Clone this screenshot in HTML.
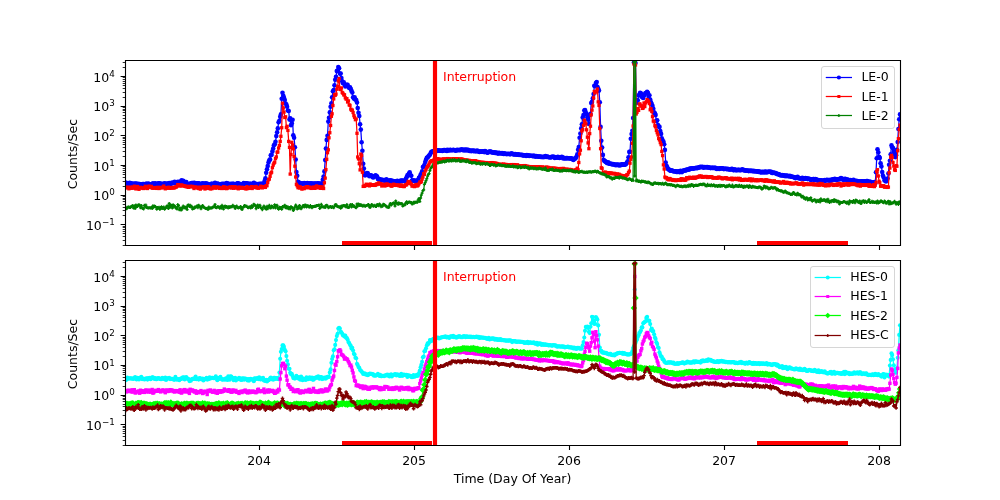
<!DOCTYPE html>
<html lang="en"><head><meta charset="utf-8"><title>Radiation Counts</title>
<style>html,body{margin:0;padding:0;background:#fff;overflow:hidden}svg{display:block}text{font-family:'DejaVu Sans', 'Liberation Sans', sans-serif;font-size:12.50px;fill:#000}</style></head><body>
<svg width="1000" height="500" viewBox="0 0 1000 500">
<rect x="0" y="0" width="1000" height="500" fill="#fff"/>
<defs>
<clipPath id="c1"><rect x="125.000" y="60.000" width="775.000" height="185.096"/></clipPath>
<clipPath id="c2"><rect x="125.000" y="259.904" width="775.000" height="185.096"/></clipPath>
<marker id="mb" markerUnits="userSpaceOnUse" markerWidth="8" markerHeight="8" refX="4" refY="4" viewBox="0 0 8 8" orient="0" overflow="visible"><circle cx="4" cy="4" r="2.30" fill="#0000ff"/></marker>
<marker id="mr" markerUnits="userSpaceOnUse" markerWidth="8" markerHeight="8" refX="4" refY="4" viewBox="0 0 8 8" orient="0" overflow="visible"><rect x="2.35" y="2.35" width="3.30" height="3.30" fill="#ff0000"/></marker>
<marker id="mg" markerUnits="userSpaceOnUse" markerWidth="8" markerHeight="8" refX="4" refY="4" viewBox="0 0 8 8" orient="0" overflow="visible"><path d="M2.50 4 H5.50 M4 2.50 V5.50" stroke="#008000" stroke-width="1.30" fill="none"/></marker>
<marker id="mc" markerUnits="userSpaceOnUse" markerWidth="8" markerHeight="8" refX="4" refY="4" viewBox="0 0 8 8" orient="0" overflow="visible"><circle cx="4" cy="4" r="2.05" fill="#00ffff"/></marker>
<marker id="mm" markerUnits="userSpaceOnUse" markerWidth="8" markerHeight="8" refX="4" refY="4" viewBox="0 0 8 8" orient="0" overflow="visible"><rect x="2.30" y="2.30" width="3.40" height="3.40" fill="#ff00ff"/></marker>
<marker id="ml" markerUnits="userSpaceOnUse" markerWidth="8" markerHeight="8" refX="4" refY="4" viewBox="0 0 8 8" orient="0" overflow="visible"><path d="M4 0.80 L7.20 4 L4 7.20 L0.80 4 Z" fill="#00ff00"/></marker>
<marker id="mn" markerUnits="userSpaceOnUse" markerWidth="8" markerHeight="8" refX="4" refY="4" viewBox="0 0 8 8" orient="0" overflow="visible"><path d="M2.20 4 H5.80 M4 2.20 V5.80" stroke="#800000" stroke-width="1.40" fill="none"/></marker>
<marker id="lmb" markerUnits="userSpaceOnUse" markerWidth="8" markerHeight="8" refX="4" refY="4" viewBox="0 0 8 8" orient="0" overflow="visible"><circle cx="4" cy="4" r="2.10" fill="#0000ff"/></marker>
<marker id="lmr" markerUnits="userSpaceOnUse" markerWidth="8" markerHeight="8" refX="4" refY="4" viewBox="0 0 8 8" orient="0" overflow="visible"><rect x="2.50" y="2.50" width="3.00" height="3.00" fill="#ff0000"/></marker>
<marker id="lmg" markerUnits="userSpaceOnUse" markerWidth="8" markerHeight="8" refX="4" refY="4" viewBox="0 0 8 8" orient="0" overflow="visible"><path d="M2.61 4 H5.39 M4 2.61 V5.39" stroke="#008000" stroke-width="1.25" fill="none"/></marker>
<marker id="lmc" markerUnits="userSpaceOnUse" markerWidth="8" markerHeight="8" refX="4" refY="4" viewBox="0 0 8 8" orient="0" overflow="visible"><circle cx="4" cy="4" r="1.95" fill="#00ffff"/></marker>
<marker id="lmm" markerUnits="userSpaceOnUse" markerWidth="8" markerHeight="8" refX="4" refY="4" viewBox="0 0 8 8" orient="0" overflow="visible"><rect x="2.50" y="2.50" width="3.00" height="3.00" fill="#ff00ff"/></marker>
<marker id="lml" markerUnits="userSpaceOnUse" markerWidth="8" markerHeight="8" refX="4" refY="4" viewBox="0 0 8 8" orient="0" overflow="visible"><path d="M4 1.25 L6.75 4 L4 6.75 L1.25 4 Z" fill="#00ff00"/></marker>
<marker id="lmn" markerUnits="userSpaceOnUse" markerWidth="8" markerHeight="8" refX="4" refY="4" viewBox="0 0 8 8" orient="0" overflow="visible"><path d="M2.61 4 H5.39 M4 2.61 V5.39" stroke="#800000" stroke-width="1.25" fill="none"/></marker>
</defs>
<g clip-path="url(#c1)">
<polyline points="125.0,184.3 125.8,182.5 126.6,183.8 127.3,183.4 128.1,183.5 128.9,183.9 129.7,182.7 130.4,183.5 131.2,183.3 132.0,185.2 132.8,183.9 133.5,183.8 134.3,183.8 135.1,183.7 135.9,183.5 136.6,183.7 137.4,184.2 138.2,183.9 139.0,184.4 139.7,184.0 140.5,184.2 141.3,184.8 142.1,184.5 142.8,184.0 143.6,184.1 144.4,184.4 145.2,184.8 145.9,183.7 146.7,183.7 147.5,184.4 148.3,183.6 149.0,184.0 149.8,184.6 150.6,184.7 151.4,184.4 152.2,184.6 152.9,183.2 153.7,184.8 154.5,183.7 155.3,183.4 156.0,184.2 156.8,184.3 157.6,183.7 158.4,183.2 159.1,183.5 159.9,183.4 160.7,184.2 161.5,184.1 162.2,183.8 163.0,184.3 163.8,183.8 164.6,183.4 165.3,183.8 166.1,184.0 166.9,183.8 167.7,183.6 168.4,184.0 169.2,183.0 170.0,184.3 170.8,183.9 171.5,182.7 172.3,183.2 173.1,182.6 173.9,183.1 174.6,181.7 175.4,182.2 176.2,183.0 177.0,183.1 177.8,181.8 178.5,182.2 179.3,182.2 180.1,181.5 180.9,182.1 181.6,180.4 182.4,181.2 183.2,180.9 184.0,182.2 184.7,181.7 185.5,182.4 186.3,182.0 187.1,183.9 187.8,184.0 188.6,184.0 189.4,184.2 190.2,183.8 190.9,183.3 191.7,183.1 192.5,183.0 193.3,184.0 194.0,182.7 194.8,183.0 195.6,183.4 196.4,183.8 197.1,183.9 197.9,183.3 198.7,183.2 199.5,183.8 200.3,184.3 201.0,184.1 201.8,183.9 202.6,183.4 203.4,183.7 204.1,183.7 204.9,184.0 205.7,183.2 206.5,183.9 207.2,183.9 208.0,184.1 208.8,184.2 209.6,185.4 210.3,184.8 211.1,184.8 211.9,183.5 212.7,184.3 213.4,184.0 214.2,184.4 215.0,182.9 215.8,184.4 216.5,184.4 217.3,183.5 218.1,183.9 218.9,184.2 219.6,184.4 220.4,184.4 221.2,185.0 222.0,183.9 222.7,184.2 223.5,183.8 224.3,184.5 225.1,183.9 225.9,184.2 226.6,183.1 227.4,183.7 228.2,183.5 229.0,184.6 229.7,184.4 230.5,184.0 231.3,183.7 232.1,184.2 232.8,183.8 233.6,183.7 234.4,184.5 235.2,185.6 235.9,184.3 236.7,183.8 237.5,183.3 238.3,183.3 239.0,184.1 239.8,184.5 240.6,184.1 241.4,184.3 242.1,184.2 242.9,184.1 243.7,183.1 244.5,183.6 245.2,183.8 246.0,183.3 246.8,183.6 247.6,183.5 248.3,183.8 249.1,184.4 249.9,183.7 250.7,183.7 251.5,184.0 252.2,184.0 253.0,184.5 253.8,182.8 254.6,184.3 255.3,183.9 256.1,184.1 256.9,184.1 257.7,184.3 258.4,184.3 259.2,183.7 260.0,184.4 260.8,183.7 261.5,183.8 262.3,184.2 263.1,183.8 263.9,183.4 264.6,181.1 265.4,178.2 266.2,172.7 267.0,169.3 267.7,166.1 268.5,162.5 269.3,160.3 270.1,159.4 270.8,155.3 271.6,154.7 272.4,151.4 273.2,148.5 273.9,145.3 274.7,144.2 275.5,141.8 276.3,136.1 277.1,132.3 277.8,128.4 278.6,122.3 279.4,120.8 280.2,116.7 280.9,114.4 281.7,98.8 282.5,92.8 283.3,95.8 284.0,97.9 284.8,100.1 285.6,103.5 286.4,104.6 287.1,106.7 287.9,110.5 288.7,111.0 289.5,119.6 290.2,118.4 291.0,125.2 291.8,123.3 292.6,119.7 293.3,135.3 294.1,137.7 294.9,147.2 295.7,159.5 296.4,172.0 297.2,175.8 298.0,181.7 298.8,182.6 299.5,182.8 300.3,183.7 301.1,183.7 301.9,183.2 302.7,183.8 303.4,183.5 304.2,183.0 305.0,183.4 305.8,183.5 306.5,183.7 307.3,183.1 308.1,183.9 308.9,183.9 309.6,183.3 310.4,183.5 311.2,183.7 312.0,183.4 312.7,184.6 313.5,184.0 314.3,183.5 315.1,183.6 315.8,183.8 316.6,184.8 317.4,183.4 318.2,183.5 318.9,183.7 319.7,183.6 320.5,184.8 321.3,183.5 322.0,183.9 322.8,179.8 323.6,176.6 324.4,171.4 325.2,160.1 325.9,148.6 326.7,139.9 327.5,135.8 328.3,121.6 329.0,117.8 329.8,112.4 330.6,106.7 331.4,103.3 332.1,97.3 332.9,91.2 333.7,90.0 334.5,85.2 335.2,79.7 336.0,76.7 336.8,71.1 337.6,70.5 338.3,67.0 339.1,68.3 339.9,73.6 340.7,73.5 341.4,78.1 342.2,81.2 343.0,83.3 343.8,82.4 344.5,84.3 345.3,86.4 346.1,85.6 346.9,84.8 347.6,84.8 348.4,86.7 349.2,88.0 350.0,87.3 350.8,89.0 351.5,90.9 352.3,92.6 353.1,97.3 353.9,98.6 354.6,97.2 355.4,99.6 356.2,100.0 357.0,102.5 357.7,108.1 358.5,112.7 359.3,116.0 360.1,124.3 360.8,129.6 361.6,142.3 362.4,150.7 363.2,163.7 363.9,168.6 364.7,175.3 365.5,175.2 366.3,173.8 367.0,173.1 367.8,173.3 368.6,175.3 369.4,176.2 370.1,175.5 370.9,175.2 371.7,175.7 372.5,176.9 373.2,177.4 374.0,177.0 374.8,176.0 375.6,175.4 376.4,176.1 377.1,176.6 377.9,178.9 378.7,179.2 379.5,179.1 380.2,180.6 381.0,180.0 381.8,179.5 382.6,180.3 383.3,180.3 384.1,180.1 384.9,180.8 385.7,180.3 386.4,179.3 387.2,181.0 388.0,180.5 388.8,181.3 389.5,180.5 390.3,180.4 391.1,181.6 391.9,180.6 392.6,181.3 393.4,181.9 394.2,181.3 395.0,181.2 395.7,181.3 396.5,181.5 397.3,180.8 398.1,181.4 398.8,181.2 399.6,181.8 400.4,180.7 401.2,180.5 402.0,181.1 402.7,180.6 403.5,180.9 404.3,181.0 405.1,181.1 405.8,179.0 406.6,177.2 407.4,175.4 408.2,175.2 408.9,173.6 409.7,172.4 410.5,175.2 411.3,175.8 412.0,180.6 412.8,180.7 413.6,180.3 414.4,181.1 415.1,180.9 415.9,181.3 416.7,180.6 417.5,180.9 418.2,179.9 419.0,177.8 419.8,177.0 420.6,174.7 421.3,173.7 422.1,171.4 422.9,167.0 423.7,166.6 424.4,165.1 425.2,162.0 426.0,159.7 426.8,157.8 427.6,157.5 428.3,156.6 429.1,155.6 429.9,154.7 430.7,153.0 431.4,151.9 432.2,151.7 433.0,151.2 433.8,151.1 434.5,151.1 435.3,151.2 436.1,150.5 436.9,151.0 437.6,150.3 438.4,150.2 439.2,150.8 440.0,150.6 440.7,150.8 441.5,150.7 442.3,150.9 443.1,150.4 443.8,150.1 444.6,150.0 445.4,150.6 446.2,150.0 446.9,151.0 447.7,149.7 448.5,150.2 449.3,150.4 450.1,149.9 450.8,150.0 451.6,150.3 452.4,150.3 453.2,149.7 453.9,150.0 454.7,150.3 455.5,150.6 456.3,150.4 457.0,149.9 457.8,150.0 458.6,150.3 459.4,149.9 460.1,150.1 460.9,150.0 461.7,149.4 462.5,150.0 463.2,149.7 464.0,150.5 464.8,149.6 465.6,150.3 466.3,149.6 467.1,150.4 467.9,149.7 468.7,150.1 469.4,151.0 470.2,150.5 471.0,151.1 471.8,150.9 472.5,150.6 473.3,151.1 474.1,150.6 474.9,151.3 475.7,151.3 476.4,151.1 477.2,150.6 478.0,151.2 478.8,151.6 479.5,152.0 480.3,151.3 481.1,151.7 481.9,151.8 482.6,151.3 483.4,151.6 484.2,152.1 485.0,151.1 485.7,151.5 486.5,152.0 487.3,152.7 488.1,152.4 488.8,151.7 489.6,151.6 490.4,151.5 491.2,151.9 491.9,152.5 492.7,152.3 493.5,152.8 494.3,152.2 495.0,152.9 495.8,152.9 496.6,152.5 497.4,153.2 498.1,153.6 498.9,152.8 499.7,153.1 500.5,153.5 501.3,153.2 502.0,153.1 502.8,153.6 503.6,153.9 504.4,153.3 505.1,154.0 505.9,153.7 506.7,154.1 507.5,154.0 508.2,153.8 509.0,154.0 509.8,154.2 510.6,154.1 511.3,153.4 512.1,154.0 512.9,153.8 513.7,154.4 514.4,154.5 515.2,154.1 516.0,154.3 516.8,154.8 517.5,154.6 518.3,154.4 519.1,155.0 519.9,154.7 520.6,154.9 521.4,155.0 522.2,154.8 523.0,155.6 523.7,155.3 524.5,155.2 525.3,155.3 526.1,155.9 526.9,155.1 527.6,155.6 528.4,155.2 529.2,155.9 530.0,155.7 530.7,155.8 531.5,155.8 532.3,156.0 533.1,156.2 533.8,155.6 534.6,156.3 535.4,156.6 536.2,156.1 536.9,156.2 537.7,156.5 538.5,156.8 539.3,156.5 540.0,156.6 540.8,156.9 541.6,157.0 542.4,156.8 543.1,157.2 543.9,156.7 544.7,156.9 545.5,156.1 546.2,157.0 547.0,156.5 547.8,156.9 548.6,157.1 549.3,157.2 550.1,157.3 550.9,157.4 551.7,156.9 552.5,156.8 553.2,156.8 554.0,156.9 554.8,158.0 555.6,157.3 556.3,157.3 557.1,157.7 557.9,156.8 558.7,157.5 559.4,157.9 560.2,157.7 561.0,157.3 561.8,156.8 562.5,157.3 563.3,158.4 564.1,158.0 564.9,158.1 565.6,158.4 566.4,158.1 567.2,158.1 568.0,158.3 568.7,158.3 569.5,158.3 570.3,158.4 571.1,158.4 571.8,158.6 572.6,159.2 573.4,159.9 574.2,158.7 574.9,158.7 575.7,158.0 576.5,156.8 577.3,154.4 578.1,149.8 578.8,147.1 579.6,137.8 580.4,133.5 581.2,128.4 581.9,124.2 582.7,117.6 583.5,115.1 584.3,110.6 585.0,110.1 585.8,112.4 586.6,114.4 587.4,117.2 588.1,119.7 588.9,124.0 589.7,115.0 590.5,113.9 591.2,103.0 592.0,101.9 592.8,98.4 593.6,94.0 594.3,85.7 595.1,86.2 595.9,83.1 596.7,82.0 597.4,86.7 598.2,88.6 599.0,90.6 599.8,102.2 600.6,126.9 601.3,140.7 602.1,147.5 602.9,154.9 603.7,159.8 604.4,161.0 605.2,161.4 606.0,161.9 606.8,162.7 607.5,163.2 608.3,162.4 609.1,163.6 609.9,163.8 610.6,163.8 611.4,163.9 612.2,164.5 613.0,164.1 613.7,164.2 614.5,164.5 615.3,165.1 616.1,164.6 616.8,165.1 617.6,164.6 618.4,164.9 619.2,165.4 619.9,164.7 620.7,165.2 621.5,164.4 622.3,164.8 623.0,164.3 623.8,164.8 624.6,164.8 625.4,164.4 626.2,163.8 626.9,162.6 627.7,161.4 628.5,157.3 629.3,151.9 630.0,151.8 630.8,138.7 631.6,134.1 632.4,130.7 633.1,118.0 633.9,62.5 634.7,62.0 635.5,63.0 636.2,103.0 637.0,100.4 637.8,100.3 638.6,95.2 639.3,95.3 640.1,92.7 640.9,93.2 641.7,96.6 642.4,97.2 643.2,98.0 644.0,95.6 644.8,94.4 645.5,93.1 646.3,93.0 647.1,91.7 647.9,92.8 648.6,96.7 649.4,95.3 650.2,99.6 651.0,102.3 651.8,104.3 652.5,106.0 653.3,108.7 654.1,112.4 654.9,113.3 655.6,115.1 656.4,120.9 657.2,120.2 658.0,125.1 658.7,126.6 659.5,126.9 660.3,131.1 661.1,133.9 661.8,138.2 662.6,140.5 663.4,141.5 664.2,144.3 664.9,149.9 665.7,162.5 666.5,165.8 667.3,167.2 668.0,169.0 668.8,169.4 669.6,170.1 670.4,170.7 671.1,170.8 671.9,170.3 672.7,171.0 673.5,171.3 674.2,171.4 675.0,171.2 675.8,171.2 676.6,171.9 677.4,171.9 678.1,171.6 678.9,171.2 679.7,172.2 680.5,170.7 681.2,171.3 682.0,172.1 682.8,170.9 683.6,170.7 684.3,170.2 685.1,170.7 685.9,169.8 686.7,170.1 687.4,169.6 688.2,169.2 689.0,169.7 689.8,168.6 690.5,168.7 691.3,168.6 692.1,168.3 692.9,168.5 693.6,168.6 694.4,168.2 695.2,168.0 696.0,168.1 696.7,167.9 697.5,168.1 698.3,167.6 699.1,167.5 699.8,167.1 700.6,166.9 701.4,167.3 702.2,166.8 703.0,167.1 703.7,167.7 704.5,167.0 705.3,167.3 706.1,167.0 706.8,167.5 707.6,167.1 708.4,167.5 709.2,167.5 709.9,167.7 710.7,168.1 711.5,167.8 712.3,167.9 713.0,167.9 713.8,168.0 714.6,167.9 715.4,167.7 716.1,168.4 716.9,168.9 717.7,168.6 718.5,168.5 719.2,169.0 720.0,168.4 720.8,168.4 721.6,168.3 722.3,168.3 723.1,168.5 723.9,169.1 724.7,168.7 725.5,168.7 726.2,168.9 727.0,169.2 727.8,168.8 728.6,169.3 729.3,169.4 730.1,169.4 730.9,169.4 731.7,168.9 732.4,169.0 733.2,170.1 734.0,170.1 734.8,169.4 735.5,170.1 736.3,170.1 737.1,170.2 737.9,169.9 738.6,169.9 739.4,170.1 740.2,170.1 741.0,170.1 741.7,169.8 742.5,169.4 743.3,170.2 744.1,170.0 744.8,170.4 745.6,170.6 746.4,170.5 747.2,170.5 747.9,170.8 748.7,171.1 749.5,170.5 750.3,171.0 751.1,170.9 751.8,170.8 752.6,171.2 753.4,170.8 754.2,171.5 754.9,171.0 755.7,171.2 756.5,171.3 757.3,171.8 758.0,171.4 758.8,171.9 759.6,171.6 760.4,172.1 761.1,172.4 761.9,171.9 762.7,172.2 763.5,171.9 764.2,172.5 765.0,171.9 765.8,171.5 766.6,172.5 767.3,172.0 768.1,171.7 768.9,171.9 769.7,171.5 770.4,172.0 771.2,171.9 772.0,172.9 772.8,172.9 773.5,172.5 774.3,172.8 775.1,173.3 775.9,173.0 776.7,173.8 777.4,174.3 778.2,174.1 779.0,174.3 779.8,174.9 780.5,175.3 781.3,175.5 782.1,175.1 782.9,175.5 783.6,175.2 784.4,175.9 785.2,175.5 786.0,176.2 786.7,175.5 787.5,175.7 788.3,176.2 789.1,176.3 789.8,175.8 790.6,176.4 791.4,176.7 792.2,176.7 792.9,176.7 793.7,177.3 794.5,177.4 795.3,178.1 796.0,177.9 796.8,177.2 797.6,176.7 798.4,177.8 799.1,178.4 799.9,178.2 800.7,178.6 801.5,178.2 802.3,177.9 803.0,178.7 803.8,178.4 804.6,178.9 805.4,178.1 806.1,178.7 806.9,178.2 807.7,179.1 808.5,178.6 809.2,179.0 810.0,179.0 810.8,179.9 811.6,179.4 812.3,179.3 813.1,179.1 813.9,179.0 814.7,180.2 815.4,179.0 816.2,179.4 817.0,180.1 817.8,180.6 818.5,180.0 819.3,180.3 820.1,180.3 820.9,180.7 821.6,180.3 822.4,181.0 823.2,180.6 824.0,181.2 824.7,180.0 825.5,180.7 826.3,180.0 827.1,179.7 827.9,180.5 828.6,180.1 829.4,180.6 830.2,179.8 831.0,180.8 831.7,180.1 832.5,179.2 833.3,179.5 834.1,179.7 834.8,178.9 835.6,179.4 836.4,179.9 837.2,179.6 837.9,179.2 838.7,179.0 839.5,179.4 840.3,178.7 841.0,178.0 841.8,179.0 842.6,178.9 843.4,179.9 844.1,179.3 844.9,178.9 845.7,179.0 846.5,179.9 847.2,179.5 848.0,179.8 848.8,180.0 849.6,180.2 850.4,180.1 851.1,180.3 851.9,180.8 852.7,181.1 853.5,179.8 854.2,181.7 855.0,180.9 855.8,181.5 856.6,180.8 857.3,181.3 858.1,181.4 858.9,181.4 859.7,181.7 860.4,181.7 861.2,181.3 862.0,181.4 862.8,181.8 863.5,181.6 864.3,181.4 865.1,181.2 865.9,181.5 866.6,181.0 867.4,181.1 868.2,182.3 869.0,181.8 869.7,181.9 870.5,181.7 871.3,183.0 872.1,183.3 872.8,182.4 873.6,182.8 874.4,182.1 875.2,183.5 876.0,172.3 876.7,158.2 877.5,149.2 878.3,152.3 879.1,156.9 879.8,157.9 880.6,163.3 881.4,166.4 882.2,172.1 882.9,175.6 883.7,177.5 884.5,180.5 885.3,180.6 886.0,181.4 886.8,180.0 887.6,178.6 888.4,173.5 889.1,164.7 889.9,160.8 890.7,154.2 891.5,145.4 892.2,147.2 893.0,148.1 893.8,151.4 894.6,153.9 895.3,157.1 896.1,155.2 896.9,149.7 897.7,142.0 898.4,129.0 899.2,119.2 900.0,114.4" fill="none" stroke="#0000ff" stroke-width="1.25" stroke-linejoin="round" marker-start="url(#mb)" marker-mid="url(#mb)" marker-end="url(#mb)"/>
<polyline points="125.0,187.8 125.8,187.2 126.6,187.8 127.3,187.2 128.1,187.6 128.9,188.8 129.7,187.7 130.4,187.1 131.2,188.3 132.0,187.9 132.8,187.1 133.5,188.1 134.3,186.2 135.1,188.1 135.9,188.9 136.6,188.1 137.4,186.5 138.2,188.5 139.0,189.3 139.7,188.0 140.5,187.3 141.3,187.7 142.1,188.0 142.8,188.0 143.6,188.5 144.4,188.2 145.2,186.3 145.9,187.1 146.7,187.3 147.5,188.5 148.3,186.7 149.0,186.1 149.8,187.1 150.6,187.4 151.4,186.4 152.2,188.2 152.9,187.7 153.7,188.0 154.5,187.9 155.3,187.5 156.0,188.3 156.8,188.4 157.6,187.4 158.4,187.5 159.1,188.5 159.9,187.6 160.7,187.5 161.5,187.9 162.2,187.4 163.0,187.4 163.8,186.1 164.6,187.8 165.3,188.8 166.1,188.0 166.9,188.2 167.7,187.7 168.4,187.2 169.2,188.1 170.0,188.2 170.8,187.9 171.5,188.0 172.3,187.4 173.1,187.9 173.9,187.9 174.6,187.7 175.4,186.9 176.2,187.1 177.0,186.4 177.8,184.6 178.5,184.8 179.3,185.7 180.1,185.3 180.9,186.1 181.6,185.0 182.4,185.4 183.2,185.6 184.0,185.9 184.7,186.1 185.5,186.4 186.3,186.8 187.1,186.3 187.8,186.9 188.6,187.3 189.4,186.7 190.2,186.3 190.9,186.6 191.7,186.6 192.5,186.4 193.3,187.0 194.0,188.5 194.8,187.4 195.6,187.0 196.4,187.4 197.1,187.5 197.9,188.2 198.7,188.5 199.5,187.2 200.3,189.1 201.0,187.4 201.8,188.0 202.6,187.5 203.4,186.9 204.1,186.9 204.9,188.9 205.7,188.5 206.5,186.9 207.2,186.8 208.0,188.3 208.8,186.8 209.6,188.2 210.3,188.9 211.1,188.4 211.9,188.7 212.7,188.1 213.4,186.8 214.2,187.5 215.0,186.9 215.8,188.2 216.5,187.0 217.3,187.7 218.1,187.3 218.9,187.3 219.6,188.4 220.4,188.1 221.2,187.9 222.0,188.5 222.7,187.7 223.5,186.7 224.3,188.4 225.1,187.0 225.9,188.4 226.6,188.6 227.4,188.1 228.2,187.5 229.0,187.5 229.7,187.3 230.5,187.0 231.3,188.1 232.1,187.0 232.8,186.7 233.6,188.3 234.4,187.2 235.2,186.7 235.9,187.7 236.7,187.9 237.5,187.7 238.3,188.8 239.0,187.0 239.8,188.0 240.6,187.7 241.4,188.2 242.1,187.3 242.9,187.6 243.7,187.9 244.5,188.3 245.2,188.5 246.0,188.9 246.8,186.7 247.6,188.6 248.3,188.0 249.1,188.0 249.9,187.3 250.7,188.3 251.5,186.6 252.2,188.5 253.0,187.0 253.8,187.4 254.6,187.3 255.3,187.5 256.1,186.5 256.9,187.9 257.7,187.6 258.4,188.2 259.2,187.7 260.0,187.4 260.8,186.2 261.5,187.1 262.3,187.9 263.1,186.7 263.9,186.7 264.6,187.1 265.4,187.4 266.2,185.6 267.0,185.7 267.7,182.5 268.5,179.7 269.3,179.1 270.1,176.3 270.8,173.2 271.6,172.2 272.4,167.7 273.2,165.1 273.9,163.3 274.7,162.2 275.5,158.6 276.3,156.9 277.1,152.2 277.8,152.0 278.6,148.1 279.4,145.4 280.2,141.4 280.9,136.3 281.7,127.7 282.5,103.2 283.3,107.9 284.0,112.1 284.8,117.5 285.6,116.8 286.4,127.6 287.1,126.3 287.9,130.4 288.7,141.4 289.5,147.4 290.2,174.1 291.0,154.5 291.8,142.3 292.6,145.0 293.3,148.8 294.1,156.6 294.9,166.2 295.7,177.0 296.4,184.3 297.2,185.8 298.0,187.7 298.8,186.6 299.5,188.0 300.3,187.0 301.1,187.9 301.9,189.1 302.7,188.0 303.4,188.4 304.2,188.6 305.0,187.5 305.8,187.7 306.5,186.7 307.3,186.7 308.1,187.6 308.9,187.6 309.6,187.1 310.4,187.8 311.2,188.4 312.0,188.1 312.7,187.5 313.5,187.1 314.3,188.3 315.1,188.3 315.8,186.9 316.6,186.0 317.4,187.2 318.2,187.7 318.9,187.6 319.7,186.6 320.5,188.3 321.3,186.9 322.0,188.1 322.8,187.2 323.6,188.5 324.4,182.8 325.2,178.1 325.9,169.6 326.7,159.3 327.5,152.7 328.3,149.8 329.0,137.8 329.8,132.7 330.6,125.5 331.4,116.3 332.1,113.8 332.9,105.5 333.7,98.9 334.5,94.7 335.2,95.3 336.0,94.1 336.8,89.2 337.6,86.4 338.3,80.9 339.1,78.6 339.9,89.0 340.7,89.5 341.4,87.9 342.2,92.5 343.0,93.3 343.8,94.9 344.5,94.8 345.3,97.8 346.1,99.1 346.9,98.6 347.6,102.0 348.4,100.9 349.2,104.9 350.0,105.4 350.8,109.1 351.5,110.2 352.3,110.1 353.1,112.5 353.9,115.6 354.6,117.3 355.4,119.7 356.2,119.0 357.0,133.3 357.7,157.0 358.5,158.9 359.3,163.7 360.1,169.9 360.8,154.1 361.6,155.4 362.4,172.2 363.2,186.4 363.9,186.3 364.7,186.2 365.5,185.4 366.3,184.2 367.0,185.2 367.8,184.7 368.6,185.3 369.4,185.9 370.1,184.0 370.9,184.9 371.7,185.2 372.5,185.2 373.2,185.0 374.0,184.7 374.8,185.4 375.6,185.1 376.4,183.9 377.1,184.5 377.9,183.5 378.7,182.9 379.5,183.9 380.2,184.0 381.0,183.8 381.8,186.0 382.6,184.3 383.3,185.2 384.1,185.3 384.9,186.0 385.7,184.2 386.4,185.4 387.2,184.0 388.0,184.8 388.8,184.8 389.5,184.6 390.3,185.2 391.1,186.0 391.9,186.1 392.6,185.2 393.4,184.3 394.2,184.5 395.0,185.3 395.7,185.2 396.5,185.4 397.3,185.2 398.1,184.9 398.8,185.7 399.6,185.5 400.4,186.2 401.2,184.9 402.0,185.9 402.7,186.1 403.5,186.5 404.3,186.5 405.1,185.1 405.8,184.7 406.6,184.8 407.4,183.5 408.2,181.4 408.9,182.4 409.7,181.9 410.5,183.4 411.3,184.2 412.0,186.1 412.8,185.7 413.6,185.7 414.4,186.6 415.1,184.9 415.9,185.9 416.7,184.5 417.5,185.9 418.2,185.1 419.0,183.8 419.8,182.1 420.6,182.3 421.3,181.6 422.1,179.1 422.9,177.0 423.7,173.6 424.4,174.4 425.2,171.0 426.0,169.6 426.8,167.7 427.6,166.7 428.3,165.4 429.1,164.1 429.9,162.2 430.7,161.5 431.4,160.9 432.2,160.7 433.0,160.7 433.8,160.1 434.5,159.3 435.3,159.6 436.1,159.4 436.9,159.2 437.6,158.8 438.4,159.1 439.2,159.3 440.0,159.5 440.7,159.7 441.5,159.3 442.3,159.6 443.1,159.1 443.8,158.9 444.6,159.6 445.4,159.4 446.2,158.8 446.9,159.6 447.7,158.6 448.5,159.1 449.3,159.2 450.1,158.9 450.8,159.5 451.6,159.4 452.4,159.3 453.2,158.7 453.9,158.8 454.7,158.8 455.5,159.1 456.3,159.1 457.0,159.0 457.8,158.8 458.6,159.1 459.4,159.5 460.1,159.7 460.9,158.9 461.7,159.2 462.5,159.3 463.2,159.6 464.0,160.2 464.8,160.0 465.6,160.1 466.3,160.4 467.1,160.2 467.9,160.4 468.7,160.7 469.4,160.4 470.2,160.8 471.0,161.0 471.8,160.8 472.5,161.3 473.3,161.2 474.1,160.7 474.9,161.4 475.7,160.7 476.4,161.6 477.2,161.5 478.0,161.6 478.8,162.1 479.5,162.1 480.3,162.3 481.1,162.8 481.9,162.2 482.6,162.7 483.4,162.4 484.2,162.6 485.0,162.6 485.7,162.9 486.5,162.6 487.3,163.0 488.1,163.6 488.8,163.0 489.6,163.3 490.4,162.7 491.2,163.3 491.9,162.6 492.7,162.9 493.5,163.2 494.3,163.4 495.0,163.1 495.8,163.4 496.6,163.4 497.4,163.9 498.1,164.0 498.9,164.3 499.7,164.5 500.5,164.7 501.3,164.2 502.0,164.5 502.8,164.5 503.6,164.1 504.4,164.5 505.1,164.9 505.9,164.4 506.7,164.8 507.5,165.3 508.2,165.0 509.0,165.0 509.8,164.9 510.6,165.3 511.3,164.6 512.1,164.9 512.9,164.9 513.7,164.6 514.4,164.7 515.2,165.5 516.0,165.2 516.8,165.9 517.5,164.8 518.3,165.6 519.1,165.8 519.9,166.0 520.6,166.1 521.4,166.0 522.2,166.1 523.0,165.7 523.7,165.9 524.5,165.6 525.3,165.9 526.1,166.2 526.9,166.5 527.6,166.3 528.4,166.6 529.2,166.8 530.0,166.6 530.7,167.0 531.5,167.2 532.3,167.1 533.1,166.8 533.8,166.8 534.6,166.9 535.4,166.8 536.2,167.5 536.9,167.4 537.7,166.8 538.5,166.9 539.3,167.3 540.0,166.8 540.8,167.7 541.6,167.3 542.4,166.9 543.1,167.5 543.9,167.7 544.7,167.4 545.5,167.6 546.2,167.2 547.0,167.3 547.8,167.5 548.6,167.5 549.3,168.3 550.1,168.6 550.9,168.0 551.7,168.2 552.5,168.5 553.2,168.1 554.0,168.5 554.8,168.2 555.6,168.6 556.3,168.4 557.1,168.9 557.9,168.7 558.7,168.7 559.4,168.6 560.2,168.6 561.0,168.9 561.8,168.6 562.5,168.9 563.3,168.4 564.1,169.0 564.9,169.4 565.6,169.9 566.4,169.2 567.2,169.3 568.0,170.3 568.7,170.4 569.5,169.4 570.3,169.8 571.1,169.6 571.8,170.0 572.6,170.6 573.4,170.8 574.2,170.2 574.9,170.9 575.7,169.9 576.5,169.5 577.3,168.2 578.1,169.8 578.8,162.5 579.6,153.9 580.4,150.2 581.2,140.8 581.9,131.0 582.7,129.7 583.5,125.3 584.3,120.2 585.0,122.0 585.8,123.8 586.6,129.8 587.4,137.2 588.1,142.9 588.9,148.7 589.7,133.6 590.5,126.2 591.2,114.9 592.0,110.1 592.8,106.0 593.6,97.8 594.3,91.5 595.1,92.8 595.9,91.2 596.7,91.6 597.4,89.0 598.2,101.9 599.0,105.4 599.8,128.5 600.6,148.7 601.3,167.8 602.1,168.4 602.9,173.0 603.7,172.3 604.4,172.9 605.2,172.1 606.0,172.5 606.8,173.1 607.5,172.7 608.3,172.7 609.1,172.9 609.9,173.7 610.6,173.0 611.4,173.1 612.2,173.6 613.0,173.5 613.7,173.6 614.5,173.4 615.3,174.0 616.1,174.4 616.8,174.5 617.6,173.9 618.4,175.0 619.2,174.3 619.9,175.7 620.7,175.1 621.5,175.6 622.3,175.8 623.0,175.6 623.8,176.2 624.6,175.8 625.4,176.5 626.2,176.0 626.9,174.6 627.7,174.6 628.5,172.6 629.3,171.1 630.0,163.2 630.8,159.3 631.6,157.0 632.4,143.3 633.1,126.0 633.9,64.0 634.7,63.5 635.5,65.0 636.2,114.0 637.0,112.3 637.8,108.6 638.6,110.4 639.3,104.0 640.1,104.1 640.9,106.1 641.7,105.8 642.4,108.4 643.2,108.0 644.0,103.0 644.8,106.6 645.5,103.1 646.3,101.8 647.1,99.6 647.9,101.2 648.6,101.2 649.4,103.6 650.2,109.8 651.0,108.7 651.8,111.5 652.5,116.7 653.3,121.0 654.1,121.8 654.9,125.7 655.6,126.9 656.4,130.4 657.2,132.7 658.0,134.9 658.7,138.5 659.5,139.9 660.3,142.6 661.1,144.6 661.8,151.4 662.6,155.6 663.4,164.9 664.2,169.0 664.9,177.1 665.7,177.8 666.5,177.6 667.3,179.1 668.0,179.1 668.8,179.9 669.6,178.5 670.4,179.0 671.1,179.7 671.9,179.5 672.7,180.2 673.5,180.4 674.2,179.8 675.0,180.3 675.8,180.6 676.6,180.4 677.4,180.1 678.1,179.9 678.9,179.7 679.7,180.1 680.5,180.4 681.2,178.7 682.0,179.1 682.8,179.5 683.6,180.2 684.3,179.0 685.1,180.3 685.9,179.8 686.7,177.7 687.4,178.6 688.2,178.7 689.0,177.9 689.8,177.2 690.5,178.0 691.3,177.8 692.1,178.2 692.9,177.9 693.6,177.1 694.4,178.2 695.2,178.1 696.0,177.8 696.7,177.1 697.5,177.3 698.3,176.8 699.1,176.4 699.8,175.9 700.6,176.9 701.4,176.1 702.2,177.3 703.0,176.6 703.7,177.1 704.5,176.9 705.3,176.6 706.1,176.5 706.8,176.7 707.6,177.5 708.4,177.1 709.2,176.8 709.9,177.4 710.7,176.9 711.5,176.8 712.3,177.2 713.0,178.2 713.8,177.6 714.6,177.7 715.4,177.8 716.1,177.6 716.9,178.3 717.7,178.1 718.5,177.2 719.2,177.3 720.0,177.8 720.8,177.6 721.6,178.0 722.3,178.8 723.1,178.5 723.9,178.4 724.7,178.0 725.5,177.9 726.2,177.7 727.0,179.0 727.8,178.4 728.6,178.6 729.3,178.7 730.1,179.1 730.9,178.9 731.7,178.1 732.4,179.8 733.2,178.7 734.0,179.2 734.8,178.4 735.5,179.1 736.3,178.5 737.1,179.5 737.9,179.2 738.6,178.3 739.4,180.0 740.2,178.6 741.0,179.6 741.7,180.4 742.5,179.7 743.3,180.3 744.1,179.6 744.8,179.3 745.6,180.0 746.4,179.6 747.2,179.5 747.9,180.3 748.7,179.6 749.5,179.0 750.3,179.2 751.1,180.7 751.8,180.5 752.6,179.1 753.4,180.2 754.2,180.5 754.9,180.0 755.7,180.7 756.5,179.7 757.3,180.2 758.0,180.8 758.8,180.2 759.6,180.2 760.4,180.4 761.1,179.8 761.9,179.9 762.7,180.6 763.5,180.6 764.2,180.2 765.0,181.3 765.8,179.8 766.6,179.9 767.3,180.4 768.1,181.3 768.9,180.4 769.7,181.4 770.4,181.0 771.2,181.0 772.0,181.4 772.8,181.7 773.5,181.8 774.3,180.8 775.1,182.1 775.9,182.4 776.7,181.8 777.4,182.0 778.2,182.2 779.0,181.9 779.8,182.5 780.5,183.1 781.3,182.4 782.1,182.4 782.9,182.7 783.6,181.5 784.4,183.1 785.2,182.6 786.0,183.3 786.7,182.3 787.5,182.5 788.3,183.0 789.1,183.4 789.8,182.7 790.6,183.9 791.4,183.6 792.2,183.2 792.9,183.8 793.7,183.6 794.5,183.6 795.3,183.2 796.0,182.9 796.8,183.0 797.6,183.9 798.4,184.0 799.1,184.4 799.9,183.8 800.7,184.0 801.5,183.9 802.3,182.9 803.0,183.8 803.8,185.1 804.6,183.8 805.4,184.3 806.1,184.3 806.9,183.9 807.7,184.6 808.5,184.3 809.2,184.3 810.0,184.0 810.8,184.6 811.6,184.3 812.3,184.0 813.1,183.8 813.9,184.9 814.7,184.3 815.4,184.3 816.2,184.9 817.0,184.4 817.8,185.0 818.5,184.2 819.3,185.2 820.1,183.5 820.9,184.8 821.6,184.3 822.4,183.9 823.2,185.2 824.0,185.1 824.7,185.2 825.5,185.9 826.3,185.0 827.1,184.9 827.9,184.5 828.6,185.7 829.4,185.2 830.2,184.5 831.0,184.6 831.7,184.4 832.5,184.2 833.3,185.4 834.1,184.8 834.8,185.1 835.6,184.4 836.4,184.3 837.2,185.3 837.9,183.9 838.7,184.3 839.5,183.6 840.3,184.4 841.0,186.0 841.8,183.9 842.6,185.0 843.4,185.3 844.1,183.9 844.9,184.0 845.7,184.7 846.5,184.8 847.2,183.6 848.0,184.2 848.8,185.2 849.6,183.7 850.4,184.3 851.1,184.6 851.9,183.7 852.7,184.0 853.5,184.2 854.2,184.1 855.0,184.6 855.8,184.3 856.6,184.9 857.3,185.0 858.1,185.7 858.9,184.8 859.7,184.4 860.4,186.1 861.2,184.9 862.0,184.9 862.8,184.7 863.5,185.3 864.3,184.9 865.1,185.4 865.9,185.2 866.6,184.8 867.4,185.3 868.2,184.6 869.0,186.3 869.7,184.6 870.5,186.2 871.3,185.7 872.1,186.1 872.8,186.4 873.6,184.6 874.4,186.6 875.2,185.3 876.0,182.6 876.7,171.5 877.5,169.7 878.3,176.0 879.1,181.3 879.8,182.7 880.6,186.2 881.4,186.0 882.2,185.7 882.9,186.1 883.7,185.7 884.5,187.2 885.3,186.6 886.0,186.9 886.8,186.7 887.6,187.4 888.4,187.1 889.1,172.7 889.9,168.0 890.7,157.2 891.5,155.4 892.2,157.4 893.0,162.5 893.8,166.1 894.6,169.8 895.3,170.4 896.1,165.7 896.9,166.2 897.7,150.7 898.4,138.7 899.2,129.4 900.0,125.1" fill="none" stroke="#ff0000" stroke-width="1.25" stroke-linejoin="round" marker-start="url(#mr)" marker-mid="url(#mr)" marker-end="url(#mr)"/>
<polyline points="125.0,208.1 125.8,207.3 126.6,208.7 127.3,207.9 128.1,207.0 128.9,207.0 129.7,207.4 130.4,207.5 131.2,206.5 132.0,206.0 132.8,205.6 133.5,208.0 134.3,206.1 135.1,208.5 135.9,205.0 136.6,206.4 137.4,206.6 138.2,205.1 139.0,204.7 139.7,205.3 140.5,207.8 141.3,205.5 142.1,207.7 142.8,208.6 143.6,208.9 144.4,205.3 145.2,206.9 145.9,205.1 146.7,207.5 147.5,207.7 148.3,207.9 149.0,207.7 149.8,207.8 150.6,207.9 151.4,207.4 152.2,208.5 152.9,205.8 153.7,207.3 154.5,206.0 155.3,206.6 156.0,207.3 156.8,209.3 157.6,207.5 158.4,208.1 159.1,207.3 159.9,209.4 160.7,208.5 161.5,206.7 162.2,208.6 163.0,208.0 163.8,207.1 164.6,209.3 165.3,208.0 166.1,207.6 166.9,206.0 167.7,206.0 168.4,208.6 169.2,203.5 170.0,207.4 170.8,205.0 171.5,205.7 172.3,208.1 173.1,204.7 173.9,206.9 174.6,206.1 175.4,206.7 176.2,208.3 177.0,209.1 177.8,204.6 178.5,205.5 179.3,209.8 180.1,207.9 180.9,209.9 181.6,209.8 182.4,207.5 183.2,206.1 184.0,208.1 184.7,207.0 185.5,208.0 186.3,207.0 187.1,209.6 187.8,205.2 188.6,204.9 189.4,206.6 190.2,205.3 190.9,207.1 191.7,206.3 192.5,209.1 193.3,208.2 194.0,208.5 194.8,207.0 195.6,207.2 196.4,206.8 197.1,205.8 197.9,207.7 198.7,205.2 199.5,206.8 200.3,206.8 201.0,208.8 201.8,207.1 202.6,205.5 203.4,207.1 204.1,207.3 204.9,208.1 205.7,208.4 206.5,208.4 207.2,208.2 208.0,209.6 208.8,207.1 209.6,208.3 210.3,207.9 211.1,208.1 211.9,207.9 212.7,207.2 213.4,206.8 214.2,206.8 215.0,204.4 215.8,207.6 216.5,207.8 217.3,206.8 218.1,206.7 218.9,206.9 219.6,208.2 220.4,206.7 221.2,208.3 222.0,205.3 222.7,206.7 223.5,209.1 224.3,206.6 225.1,206.0 225.9,207.5 226.6,206.4 227.4,207.3 228.2,207.9 229.0,206.4 229.7,207.6 230.5,206.8 231.3,206.8 232.1,206.7 232.8,205.3 233.6,206.2 234.4,206.7 235.2,208.6 235.9,206.4 236.7,206.1 237.5,207.4 238.3,207.9 239.0,207.4 239.8,207.6 240.6,206.5 241.4,208.8 242.1,209.6 242.9,207.4 243.7,207.1 244.5,205.5 245.2,205.9 246.0,206.2 246.8,206.3 247.6,207.4 248.3,207.7 249.1,206.9 249.9,207.0 250.7,208.0 251.5,205.8 252.2,207.4 253.0,206.0 253.8,204.2 254.6,204.9 255.3,205.7 256.1,208.7 256.9,206.0 257.7,205.1 258.4,207.5 259.2,205.5 260.0,205.3 260.8,207.6 261.5,208.4 262.3,209.7 263.1,207.4 263.9,206.1 264.6,207.0 265.4,208.6 266.2,209.2 267.0,206.3 267.7,208.8 268.5,206.5 269.3,205.3 270.1,207.8 270.8,208.0 271.6,206.1 272.4,206.5 273.2,207.7 273.9,207.2 274.7,204.7 275.5,207.9 276.3,205.6 277.1,205.3 277.8,208.1 278.6,209.3 279.4,207.2 280.2,207.5 280.9,208.4 281.7,209.3 282.5,206.6 283.3,207.0 284.0,206.4 284.8,205.2 285.6,207.8 286.4,206.4 287.1,208.3 287.9,206.8 288.7,208.7 289.5,207.4 290.2,209.1 291.0,206.6 291.8,207.4 292.6,207.9 293.3,210.6 294.1,209.0 294.9,207.1 295.7,205.1 296.4,206.3 297.2,209.1 298.0,207.0 298.8,208.2 299.5,205.5 300.3,208.0 301.1,208.8 301.9,207.4 302.7,206.1 303.4,205.5 304.2,207.0 305.0,204.9 305.8,205.2 306.5,207.0 307.3,205.7 308.1,205.8 308.9,206.9 309.6,207.0 310.4,205.6 311.2,206.8 312.0,207.8 312.7,206.5 313.5,206.5 314.3,206.5 315.1,205.9 315.8,206.5 316.6,205.5 317.4,205.6 318.2,205.4 318.9,204.9 319.7,208.4 320.5,207.7 321.3,204.3 322.0,206.8 322.8,206.7 323.6,206.9 324.4,207.1 325.2,207.6 325.9,205.5 326.7,205.2 327.5,206.1 328.3,207.7 329.0,207.2 329.8,206.7 330.6,206.6 331.4,207.5 332.1,206.6 332.9,207.1 333.7,207.8 334.5,206.3 335.2,204.8 336.0,204.5 336.8,206.1 337.6,206.5 338.3,206.8 339.1,207.1 339.9,206.7 340.7,208.3 341.4,205.9 342.2,206.9 343.0,205.6 343.8,205.5 344.5,205.8 345.3,205.9 346.1,207.0 346.9,204.6 347.6,207.2 348.4,207.5 349.2,207.2 350.0,205.3 350.8,204.5 351.5,206.9 352.3,204.6 353.1,206.6 353.9,205.7 354.6,206.6 355.4,207.4 356.2,207.7 357.0,204.0 357.7,206.2 358.5,203.9 359.3,205.5 360.1,204.4 360.8,205.5 361.6,205.1 362.4,206.1 363.2,205.9 363.9,205.3 364.7,206.1 365.5,206.2 366.3,205.4 367.0,205.6 367.8,204.8 368.6,204.6 369.4,206.8 370.1,207.6 370.9,206.0 371.7,204.5 372.5,205.2 373.2,206.2 374.0,206.1 374.8,205.3 375.6,206.4 376.4,206.4 377.1,204.6 377.9,204.5 378.7,205.7 379.5,204.1 380.2,205.0 381.0,206.7 381.8,206.1 382.6,206.2 383.3,204.2 384.1,204.6 384.9,205.3 385.7,205.7 386.4,206.7 387.2,206.9 388.0,207.3 388.8,207.5 389.5,205.2 390.3,203.5 391.1,205.2 391.9,204.1 392.6,203.6 393.4,202.9 394.2,203.1 395.0,206.0 395.7,200.9 396.5,203.3 397.3,203.3 398.1,204.4 398.8,202.7 399.6,203.7 400.4,203.7 401.2,203.6 402.0,203.6 402.7,206.0 403.5,205.4 404.3,204.8 405.1,204.8 405.8,203.0 406.6,201.8 407.4,203.4 408.2,202.2 408.9,202.3 409.7,202.1 410.5,202.4 411.3,202.5 412.0,203.9 412.8,203.8 413.6,202.2 414.4,203.0 415.1,201.9 415.9,202.4 416.7,202.0 417.5,202.2 418.2,199.9 419.0,198.4 419.8,201.6 420.6,198.0 421.3,195.2 422.1,193.1 422.9,190.7 423.7,189.8 424.4,184.4 425.2,182.6 426.0,180.7 426.8,178.7 427.6,176.2 428.3,174.3 429.1,173.7 429.9,170.5 430.7,168.2 431.4,167.5 432.2,166.4 433.0,165.0 433.8,163.7 434.5,163.7 435.3,162.8 436.1,163.4 436.9,162.5 437.6,163.0 438.4,162.8 439.2,162.3 440.0,162.2 440.7,162.3 441.5,162.1 442.3,162.1 443.1,161.3 443.8,161.3 444.6,161.9 445.4,160.9 446.2,161.6 446.9,160.5 447.7,160.2 448.5,161.1 449.3,161.1 450.1,160.0 450.8,160.8 451.6,161.0 452.4,159.8 453.2,160.7 453.9,160.3 454.7,159.8 455.5,161.0 456.3,160.5 457.0,161.1 457.8,160.5 458.6,159.8 459.4,160.2 460.1,161.6 460.9,161.1 461.7,161.3 462.5,160.7 463.2,160.7 464.0,161.0 464.8,160.9 465.6,161.4 466.3,161.8 467.1,160.2 467.9,160.7 468.7,162.1 469.4,162.4 470.2,162.1 471.0,162.4 471.8,163.3 472.5,162.7 473.3,162.8 474.1,162.5 474.9,162.7 475.7,162.7 476.4,163.8 477.2,163.2 478.0,163.5 478.8,162.7 479.5,163.3 480.3,164.2 481.1,163.9 481.9,163.6 482.6,164.2 483.4,163.5 484.2,163.4 485.0,164.1 485.7,164.4 486.5,163.6 487.3,163.8 488.1,164.0 488.8,164.5 489.6,165.4 490.4,165.5 491.2,164.2 491.9,164.6 492.7,164.6 493.5,165.2 494.3,164.6 495.0,165.0 495.8,165.9 496.6,165.4 497.4,165.2 498.1,164.9 498.9,164.6 499.7,165.2 500.5,164.9 501.3,165.2 502.0,165.7 502.8,165.5 503.6,165.5 504.4,166.1 505.1,165.4 505.9,166.5 506.7,166.2 507.5,165.8 508.2,166.5 509.0,165.4 509.8,166.4 510.6,166.4 511.3,166.5 512.1,166.6 512.9,165.8 513.7,167.0 514.4,166.5 515.2,166.8 516.0,167.1 516.8,166.4 517.5,167.7 518.3,167.6 519.1,166.3 519.9,166.7 520.6,167.7 521.4,167.4 522.2,167.0 523.0,167.3 523.7,167.1 524.5,167.4 525.3,166.5 526.1,167.6 526.9,167.6 527.6,168.0 528.4,167.3 529.2,169.0 530.0,168.2 530.7,167.7 531.5,168.3 532.3,168.0 533.1,168.0 533.8,168.8 534.6,168.2 535.4,168.2 536.2,168.9 536.9,168.7 537.7,168.7 538.5,168.7 539.3,168.1 540.0,168.5 540.8,168.8 541.6,169.0 542.4,169.3 543.1,169.2 543.9,168.8 544.7,169.5 545.5,168.1 546.2,170.1 547.0,170.2 547.8,170.6 548.6,170.3 549.3,170.2 550.1,169.5 550.9,169.4 551.7,169.8 552.5,168.9 553.2,170.3 554.0,170.6 554.8,170.6 555.6,169.9 556.3,170.1 557.1,170.5 557.9,170.5 558.7,170.3 559.4,170.9 560.2,170.9 561.0,171.0 561.8,170.8 562.5,171.0 563.3,170.0 564.1,170.6 564.9,170.2 565.6,170.6 566.4,170.7 567.2,170.2 568.0,170.6 568.7,170.7 569.5,170.2 570.3,170.8 571.1,170.2 571.8,171.0 572.6,170.7 573.4,171.8 574.2,171.0 574.9,171.9 575.7,172.0 576.5,171.6 577.3,171.6 578.1,171.9 578.8,172.5 579.6,172.0 580.4,171.5 581.2,171.7 581.9,171.3 582.7,172.1 583.5,172.2 584.3,171.9 585.0,172.6 585.8,172.3 586.6,171.9 587.4,172.6 588.1,171.7 588.9,172.1 589.7,171.7 590.5,171.8 591.2,172.2 592.0,172.1 592.8,171.4 593.6,171.7 594.3,171.6 595.1,171.0 595.9,171.6 596.7,172.3 597.4,171.2 598.2,171.6 599.0,172.6 599.8,172.9 600.6,173.1 601.3,173.7 602.1,173.8 602.9,174.2 603.7,174.1 604.4,174.6 605.2,175.2 606.0,175.1 606.8,177.1 607.5,176.4 608.3,176.4 609.1,176.4 609.9,177.8 610.6,177.7 611.4,177.7 612.2,179.2 613.0,178.0 613.7,178.2 614.5,178.5 615.3,177.2 616.1,177.4 616.8,177.4 617.6,177.5 618.4,177.3 619.2,178.2 619.9,176.8 620.7,177.3 621.5,177.3 622.3,178.1 623.0,178.0 623.8,177.9 624.6,178.2 625.4,178.5 626.2,178.9 626.9,179.2 627.7,179.7 628.5,179.3 629.3,178.7 630.0,179.0 630.8,179.4 631.6,180.4 632.4,179.8 633.1,180.5 633.9,62.0 634.7,176.0 635.5,61.5 636.2,181.0 637.0,179.9 637.8,181.0 638.6,181.6 639.3,180.9 640.1,181.5 640.9,182.3 641.7,181.1 642.4,181.6 643.2,181.3 644.0,181.5 644.8,182.1 645.5,181.8 646.3,182.5 647.1,182.1 647.9,182.7 648.6,182.0 649.4,182.6 650.2,183.2 651.0,183.9 651.8,183.7 652.5,184.5 653.3,184.2 654.1,182.9 654.9,182.9 655.6,183.1 656.4,183.6 657.2,183.6 658.0,183.2 658.7,184.1 659.5,183.5 660.3,183.4 661.1,184.0 661.8,184.1 662.6,183.3 663.4,184.2 664.2,184.2 664.9,183.5 665.7,183.1 666.5,184.0 667.3,184.8 668.0,184.5 668.8,184.7 669.6,184.4 670.4,185.0 671.1,184.4 671.9,184.9 672.7,185.4 673.5,185.3 674.2,185.5 675.0,186.1 675.8,186.7 676.6,185.8 677.4,185.3 678.1,185.6 678.9,185.9 679.7,186.3 680.5,186.6 681.2,185.9 682.0,186.7 682.8,186.8 683.6,186.3 684.3,186.3 685.1,185.8 685.9,186.8 686.7,186.2 687.4,185.7 688.2,186.4 689.0,185.1 689.8,186.0 690.5,186.1 691.3,184.5 692.1,185.0 692.9,185.1 693.6,186.4 694.4,185.5 695.2,185.6 696.0,185.1 696.7,185.5 697.5,185.6 698.3,185.0 699.1,185.1 699.8,184.6 700.6,184.2 701.4,184.6 702.2,184.7 703.0,184.0 703.7,184.2 704.5,184.2 705.3,185.7 706.1,185.4 706.8,186.1 707.6,184.3 708.4,185.4 709.2,185.6 709.9,184.9 710.7,185.7 711.5,184.8 712.3,185.7 713.0,185.4 713.8,184.7 714.6,186.0 715.4,185.9 716.1,186.1 716.9,185.4 717.7,186.5 718.5,185.6 719.2,186.3 720.0,185.2 720.8,186.4 721.6,185.4 722.3,186.0 723.1,185.6 723.9,185.4 724.7,185.9 725.5,186.8 726.2,186.8 727.0,185.6 727.8,186.5 728.6,185.8 729.3,185.1 730.1,185.9 730.9,186.4 731.7,186.6 732.4,185.1 733.2,187.0 734.0,186.8 734.8,186.5 735.5,185.5 736.3,185.4 737.1,186.6 737.9,185.8 738.6,186.4 739.4,185.2 740.2,186.6 741.0,186.5 741.7,185.6 742.5,186.5 743.3,187.5 744.1,186.0 744.8,187.1 745.6,186.7 746.4,186.0 747.2,186.3 747.9,186.0 748.7,187.5 749.5,185.8 750.3,186.2 751.1,187.0 751.8,187.5 752.6,186.3 753.4,186.7 754.2,187.1 754.9,187.1 755.7,187.3 756.5,187.4 757.3,187.4 758.0,187.8 758.8,186.9 759.6,187.0 760.4,187.2 761.1,187.7 761.9,189.3 762.7,188.4 763.5,187.8 764.2,185.9 765.0,186.5 765.8,187.9 766.6,187.0 767.3,187.2 768.1,188.3 768.9,189.0 769.7,188.5 770.4,188.2 771.2,187.2 772.0,187.8 772.8,188.3 773.5,188.0 774.3,187.8 775.1,187.4 775.9,188.6 776.7,189.9 777.4,189.0 778.2,189.7 779.0,190.5 779.8,190.6 780.5,191.1 781.3,190.8 782.1,191.0 782.9,192.0 783.6,192.2 784.4,191.9 785.2,190.9 786.0,192.1 786.7,192.8 787.5,192.8 788.3,193.3 789.1,193.3 789.8,193.8 790.6,194.4 791.4,194.3 792.2,194.4 792.9,193.1 793.7,192.4 794.5,194.1 795.3,194.4 796.0,194.3 796.8,195.1 797.6,193.2 798.4,194.2 799.1,195.1 799.9,194.5 800.7,195.3 801.5,196.9 802.3,196.5 803.0,196.3 803.8,198.2 804.6,197.7 805.4,199.2 806.1,198.0 806.9,197.7 807.7,199.9 808.5,199.6 809.2,198.5 810.0,199.8 810.8,197.7 811.6,200.0 812.3,201.2 813.1,200.6 813.9,200.0 814.7,199.8 815.4,200.3 816.2,202.0 817.0,200.3 817.8,200.8 818.5,201.5 819.3,200.0 820.1,201.9 820.9,198.8 821.6,200.6 822.4,200.4 823.2,200.4 824.0,199.4 824.7,200.3 825.5,201.2 826.3,199.9 827.1,201.7 827.9,199.2 828.6,201.2 829.4,202.4 830.2,200.9 831.0,201.9 831.7,200.7 832.5,200.5 833.3,201.6 834.1,199.6 834.8,201.4 835.6,200.2 836.4,201.1 837.2,202.1 837.9,200.9 838.7,201.5 839.5,204.0 840.3,202.2 841.0,202.4 841.8,202.6 842.6,202.4 843.4,201.8 844.1,201.4 844.9,202.1 845.7,202.4 846.5,203.2 847.2,201.9 848.0,202.8 848.8,204.0 849.6,200.8 850.4,202.1 851.1,201.8 851.9,201.5 852.7,202.5 853.5,200.6 854.2,201.4 855.0,202.8 855.8,199.9 856.6,200.7 857.3,201.1 858.1,202.0 858.9,202.6 859.7,200.9 860.4,203.2 861.2,203.5 862.0,201.3 862.8,201.3 863.5,200.8 864.3,202.4 865.1,201.0 865.9,202.1 866.6,202.4 867.4,201.9 868.2,201.2 869.0,199.6 869.7,202.2 870.5,202.4 871.3,202.1 872.1,201.3 872.8,202.6 873.6,201.7 874.4,202.5 875.2,202.0 876.0,202.2 876.7,202.9 877.5,201.0 878.3,203.0 879.1,202.5 879.8,202.0 880.6,201.1 881.4,200.9 882.2,201.7 882.9,202.4 883.7,202.7 884.5,201.1 885.3,201.8 886.0,203.2 886.8,202.9 887.6,201.8 888.4,201.3 889.1,204.1 889.9,201.4 890.7,203.8 891.5,203.3 892.2,202.9 893.0,203.0 893.8,202.2 894.6,201.3 895.3,202.4 896.1,204.2 896.9,202.4 897.7,203.3 898.4,204.4 899.2,201.7 900.0,202.7" fill="none" stroke="#008000" stroke-width="1.25" stroke-linejoin="round" marker-start="url(#mg)" marker-mid="url(#mg)" marker-end="url(#mg)"/>
<line x1="435.00" y1="60.00" x2="435.00" y2="245.10" stroke="#ff0000" stroke-width="4.17"/>
<line x1="342.00" y1="243.00" x2="432.00" y2="243.00" stroke="#ff0000" stroke-width="4.17"/>
<line x1="757.00" y1="243.00" x2="848.00" y2="243.00" stroke="#ff0000" stroke-width="4.17"/>
</g>
<text x="443.10" y="80.80" fill="#ff0000" style="fill:#ff0000;letter-spacing:-0.1px">Interruption</text>
<path d="M125.5 60.5 H900.5 V245.5 H125.5 Z" fill="none" stroke="#000" stroke-width="1.11" stroke-linejoin="miter"/>
<path d="M125.5 224.5H120.6M125.5 195.5H120.6M125.5 165.5H120.6M125.5 135.5H120.6M125.5 106.5H120.6M125.5 76.5H120.6" stroke="#000" stroke-width="1.11" fill="none"/>
<path d="M125.5 245.5H122.7M125.5 240.5H122.7M125.5 236.5H122.7M125.5 233.5H122.7M125.5 231.5H122.7M125.5 229.5H122.7M125.5 227.5H122.7M125.5 226.5H122.7M125.5 215.5H122.7M125.5 210.5H122.7M125.5 207.5H122.7M125.5 204.5H122.7M125.5 201.5H122.7M125.5 199.5H122.7M125.5 198.5H122.7M125.5 196.5H122.7M125.5 186.5H122.7M125.5 181.5H122.7M125.5 177.5H122.7M125.5 174.5H122.7M125.5 172.5H122.7M125.5 170.5H122.7M125.5 168.5H122.7M125.5 166.5H122.7M125.5 156.5H122.7M125.5 151.5H122.7M125.5 147.5H122.7M125.5 144.5H122.7M125.5 142.5H122.7M125.5 140.5H122.7M125.5 138.5H122.7M125.5 137.5H122.7M125.5 127.5H122.7M125.5 121.5H122.7M125.5 118.5H122.7M125.5 115.5H122.7M125.5 112.5H122.7M125.5 110.5H122.7M125.5 109.5H122.7M125.5 107.5H122.7M125.5 97.5H122.7M125.5 92.5H122.7M125.5 88.5H122.7M125.5 85.5H122.7M125.5 83.5H122.7M125.5 81.5H122.7M125.5 79.5H122.7M125.5 77.5H122.7M125.5 67.5H122.7M125.5 62.5H122.7" stroke="#000" stroke-width="0.83" fill="none"/>
<path d="M259.5 245.0V249.9M414.5 245.0V249.9M569.5 245.0V249.9M724.5 245.0V249.9M879.5 245.0V249.9" stroke="#000" stroke-width="1.11" fill="none"/>
<text transform="translate(85.90 231.12)"><tspan x="0" y="-1.27">10</tspan><tspan x="16.02" y="-6.06" style="font-size:8.75px">−1</tspan></text>
<text transform="translate(93.28 201.47)"><tspan x="0" y="-1.27">10</tspan><tspan x="16.02" y="-6.06" style="font-size:8.75px">0</tspan></text>
<text transform="translate(93.28 171.82)"><tspan x="0" y="-1.27">10</tspan><tspan x="16.02" y="-6.06" style="font-size:8.75px">1</tspan></text>
<text transform="translate(93.28 142.18)"><tspan x="0" y="-1.27">10</tspan><tspan x="16.02" y="-6.06" style="font-size:8.75px">2</tspan></text>
<text transform="translate(93.28 112.53)"><tspan x="0" y="-1.27">10</tspan><tspan x="16.02" y="-6.06" style="font-size:8.75px">3</tspan></text>
<text transform="translate(93.28 82.88)"><tspan x="0" y="-1.27">10</tspan><tspan x="16.02" y="-6.06" style="font-size:8.75px">4</tspan></text>
<text text-anchor="middle" transform="translate(76.95 154.15) rotate(-90)">Counts/Sec</text>
<g clip-path="url(#c2)">
<polyline points="125.0,379.5 125.8,380.3 126.6,379.4 127.3,377.6 128.1,378.3 128.9,378.7 129.7,378.3 130.4,378.2 131.2,378.6 132.0,378.5 132.8,378.5 133.5,379.0 134.3,378.1 135.1,377.1 135.9,377.8 136.6,379.4 137.4,377.9 138.2,378.5 139.0,379.5 139.7,377.9 140.5,377.7 141.3,376.9 142.1,379.1 142.8,378.9 143.6,378.6 144.4,379.5 145.2,379.1 145.9,378.5 146.7,378.2 147.5,379.6 148.3,378.0 149.0,378.5 149.8,377.9 150.6,379.3 151.4,378.6 152.2,377.4 152.9,377.3 153.7,378.1 154.5,378.9 155.3,378.1 156.0,379.3 156.8,379.2 157.6,378.2 158.4,378.0 159.1,378.4 159.9,379.0 160.7,379.1 161.5,379.1 162.2,377.7 163.0,378.8 163.8,378.3 164.6,379.3 165.3,377.6 166.1,379.9 166.9,379.0 167.7,378.3 168.4,378.3 169.2,377.9 170.0,379.1 170.8,378.9 171.5,378.8 172.3,378.7 173.1,379.2 173.9,379.7 174.6,379.6 175.4,376.8 176.2,379.3 177.0,379.7 177.8,379.0 178.5,379.3 179.3,380.3 180.1,378.7 180.9,378.5 181.6,379.0 182.4,377.5 183.2,377.5 184.0,377.3 184.7,379.4 185.5,377.7 186.3,377.1 187.1,378.3 187.8,378.9 188.6,379.0 189.4,381.1 190.2,380.6 190.9,380.8 191.7,379.2 192.5,378.8 193.3,378.9 194.0,378.5 194.8,379.0 195.6,376.6 196.4,379.3 197.1,378.7 197.9,378.9 198.7,379.6 199.5,378.1 200.3,378.3 201.0,379.3 201.8,379.2 202.6,378.6 203.4,380.4 204.1,379.5 204.9,379.0 205.7,379.3 206.5,377.7 207.2,379.6 208.0,379.1 208.8,379.1 209.6,377.4 210.3,378.5 211.1,378.1 211.9,377.9 212.7,377.8 213.4,378.1 214.2,378.2 215.0,377.6 215.8,376.4 216.5,377.8 217.3,380.2 218.1,378.1 218.9,379.1 219.6,377.7 220.4,376.8 221.2,378.8 222.0,379.4 222.7,379.7 223.5,379.2 224.3,379.3 225.1,379.7 225.9,378.4 226.6,378.5 227.4,379.9 228.2,376.4 229.0,378.6 229.7,379.7 230.5,376.4 231.3,376.6 232.1,377.6 232.8,378.2 233.6,380.3 234.4,378.2 235.2,377.8 235.9,380.5 236.7,379.1 237.5,379.2 238.3,379.1 239.0,377.9 239.8,378.3 240.6,379.7 241.4,380.0 242.1,378.2 242.9,379.6 243.7,378.4 244.5,379.6 245.2,378.6 246.0,378.9 246.8,379.2 247.6,380.4 248.3,379.0 249.1,380.6 249.9,379.0 250.7,378.9 251.5,379.2 252.2,379.5 253.0,379.6 253.8,381.3 254.6,378.2 255.3,379.1 256.1,378.4 256.9,378.8 257.7,378.1 258.4,379.1 259.2,377.2 260.0,379.3 260.8,379.5 261.5,378.4 262.3,379.2 263.1,377.9 263.9,380.4 264.6,380.4 265.4,380.9 266.2,379.9 267.0,381.4 267.7,380.0 268.5,380.2 269.3,379.6 270.1,378.4 270.8,377.6 271.6,379.1 272.4,378.5 273.2,379.7 273.9,377.9 274.7,377.7 275.5,378.9 276.3,378.0 277.1,378.8 277.8,378.0 278.6,379.3 279.4,372.6 280.2,358.7 280.9,351.7 281.7,349.1 282.5,345.4 283.3,345.2 284.0,347.0 284.8,349.9 285.6,351.3 286.4,356.1 287.1,360.7 287.9,364.4 288.7,368.7 289.5,368.8 290.2,372.7 291.0,374.3 291.8,373.8 292.6,375.9 293.3,378.1 294.1,377.7 294.9,378.6 295.7,377.6 296.4,375.9 297.2,377.9 298.0,377.0 298.8,378.8 299.5,377.3 300.3,379.7 301.1,376.6 301.9,377.9 302.7,380.3 303.4,378.9 304.2,378.8 305.0,379.5 305.8,379.9 306.5,377.4 307.3,378.4 308.1,379.2 308.9,378.7 309.6,377.2 310.4,378.3 311.2,379.1 312.0,377.6 312.7,379.6 313.5,379.8 314.3,377.9 315.1,378.4 315.8,377.8 316.6,377.0 317.4,377.3 318.2,376.2 318.9,378.4 319.7,378.6 320.5,377.1 321.3,377.0 322.0,379.1 322.8,377.8 323.6,378.8 324.4,377.5 325.2,378.1 325.9,378.6 326.7,377.0 327.5,377.4 328.3,376.6 329.0,377.0 329.8,372.4 330.6,369.4 331.4,362.7 332.1,359.0 332.9,356.4 333.7,350.2 334.5,349.3 335.2,344.9 336.0,340.1 336.8,336.1 337.6,333.7 338.3,328.5 339.1,327.9 339.9,328.5 340.7,331.9 341.4,332.2 342.2,333.7 343.0,335.5 343.8,335.3 344.5,336.6 345.3,335.6 346.1,337.7 346.9,338.0 347.6,339.5 348.4,342.0 349.2,343.1 350.0,344.7 350.8,345.9 351.5,348.6 352.3,347.8 353.1,350.6 353.9,353.8 354.6,354.6 355.4,357.7 356.2,358.2 357.0,363.8 357.7,365.0 358.5,367.1 359.3,367.8 360.1,370.1 360.8,370.6 361.6,371.6 362.4,372.5 363.2,373.9 363.9,373.7 364.7,373.3 365.5,374.4 366.3,374.5 367.0,374.4 367.8,375.2 368.6,374.6 369.4,373.7 370.1,373.6 370.9,374.0 371.7,373.9 372.5,374.4 373.2,374.4 374.0,375.8 374.8,375.2 375.6,375.8 376.4,375.2 377.1,375.0 377.9,373.9 378.7,375.0 379.5,376.0 380.2,374.9 381.0,376.3 381.8,376.2 382.6,375.7 383.3,375.8 384.1,376.2 384.9,375.5 385.7,375.2 386.4,375.4 387.2,374.6 388.0,375.6 388.8,374.7 389.5,376.5 390.3,375.5 391.1,374.3 391.9,376.5 392.6,375.0 393.4,374.9 394.2,374.8 395.0,374.0 395.7,374.5 396.5,375.5 397.3,374.3 398.1,375.1 398.8,374.8 399.6,376.0 400.4,375.7 401.2,373.9 402.0,375.8 402.7,375.8 403.5,374.5 404.3,374.9 405.1,374.9 405.8,375.3 406.6,374.8 407.4,377.0 408.2,375.3 408.9,375.5 409.7,375.7 410.5,375.9 411.3,377.1 412.0,376.1 412.8,377.1 413.6,375.1 414.4,376.7 415.1,376.2 415.9,376.3 416.7,374.9 417.5,376.0 418.2,375.0 419.0,373.0 419.8,370.6 420.6,367.2 421.3,364.9 422.1,361.7 422.9,357.2 423.7,356.5 424.4,351.2 425.2,350.9 426.0,348.2 426.8,345.5 427.6,343.4 428.3,344.0 429.1,342.6 429.9,340.0 430.7,340.4 431.4,341.1 432.2,339.5 433.0,339.5 433.8,338.8 434.5,338.6 435.3,338.3 436.1,337.7 436.9,337.8 437.6,337.5 438.4,337.8 439.2,338.5 440.0,337.8 440.7,337.8 441.5,337.2 442.3,337.2 443.1,337.0 443.8,336.8 444.6,337.0 445.4,336.3 446.2,337.3 446.9,337.5 447.7,336.8 448.5,337.3 449.3,338.0 450.1,336.5 450.8,336.5 451.6,336.2 452.4,336.9 453.2,335.9 453.9,337.2 454.7,336.9 455.5,336.8 456.3,337.8 457.0,336.7 457.8,337.1 458.6,336.2 459.4,336.3 460.1,336.6 460.9,337.2 461.7,337.1 462.5,337.2 463.2,336.2 464.0,336.3 464.8,336.3 465.6,337.3 466.3,336.6 467.1,336.2 467.9,337.0 468.7,337.0 469.4,336.6 470.2,337.1 471.0,336.6 471.8,337.2 472.5,337.1 473.3,336.7 474.1,337.3 474.9,337.2 475.7,337.0 476.4,336.6 477.2,336.9 478.0,337.5 478.8,336.8 479.5,338.0 480.3,337.4 481.1,337.5 481.9,337.5 482.6,337.7 483.4,337.5 484.2,338.0 485.0,337.8 485.7,338.1 486.5,338.5 487.3,338.9 488.1,338.6 488.8,337.9 489.6,339.4 490.4,338.9 491.2,338.8 491.9,338.4 492.7,338.7 493.5,338.4 494.3,339.3 495.0,339.7 495.8,338.7 496.6,339.1 497.4,340.0 498.1,339.4 498.9,339.6 499.7,339.9 500.5,339.1 501.3,340.3 502.0,339.9 502.8,340.2 503.6,340.1 504.4,340.5 505.1,340.3 505.9,340.6 506.7,340.7 507.5,340.3 508.2,340.7 509.0,340.6 509.8,340.2 510.6,340.5 511.3,340.7 512.1,342.1 512.9,341.0 513.7,341.1 514.4,341.4 515.2,341.0 516.0,341.8 516.8,341.9 517.5,341.6 518.3,341.5 519.1,341.8 519.9,341.6 520.6,341.9 521.4,341.7 522.2,341.8 523.0,342.0 523.7,342.4 524.5,343.0 525.3,342.4 526.1,342.8 526.9,342.8 527.6,341.9 528.4,343.2 529.2,342.5 530.0,342.6 530.7,342.3 531.5,343.0 532.3,342.8 533.1,342.7 533.8,342.4 534.6,343.4 535.4,343.6 536.2,343.7 536.9,342.9 537.7,344.7 538.5,343.9 539.3,343.3 540.0,343.9 540.8,343.5 541.6,344.9 542.4,344.1 543.1,344.3 543.9,344.9 544.7,344.5 545.5,344.4 546.2,345.0 547.0,344.9 547.8,344.8 548.6,345.4 549.3,345.3 550.1,345.1 550.9,345.3 551.7,345.8 552.5,345.6 553.2,345.0 554.0,345.2 554.8,345.5 555.6,345.4 556.3,346.0 557.1,346.7 557.9,346.5 558.7,346.2 559.4,346.2 560.2,346.8 561.0,346.5 561.8,346.5 562.5,346.4 563.3,346.9 564.1,346.5 564.9,347.4 565.6,347.0 566.4,347.0 567.2,346.8 568.0,346.6 568.7,347.3 569.5,347.5 570.3,347.2 571.1,347.4 571.8,347.7 572.6,347.6 573.4,348.4 574.2,347.6 574.9,348.4 575.7,348.2 576.5,348.9 577.3,347.8 578.1,348.3 578.8,347.8 579.6,348.6 580.4,348.5 581.2,348.7 581.9,348.4 582.7,345.2 583.5,342.1 584.3,337.5 585.0,330.7 585.8,326.9 586.6,327.3 587.4,326.5 588.1,327.9 588.9,331.7 589.7,333.1 590.5,326.7 591.2,323.3 592.0,316.7 592.8,317.0 593.6,320.6 594.3,324.0 595.1,323.8 595.9,317.0 596.7,318.2 597.4,319.5 598.2,325.4 599.0,334.8 599.8,347.5 600.6,350.5 601.3,350.9 602.1,352.4 602.9,352.4 603.7,352.7 604.4,352.6 605.2,353.2 606.0,352.8 606.8,353.4 607.5,353.7 608.3,354.1 609.1,354.5 609.9,353.8 610.6,353.7 611.4,354.9 612.2,355.1 613.0,355.1 613.7,354.5 614.5,355.5 615.3,354.4 616.1,354.3 616.8,353.5 617.6,353.4 618.4,353.1 619.2,352.7 619.9,352.8 620.7,353.0 621.5,353.2 622.3,352.9 623.0,353.9 623.8,353.1 624.6,353.3 625.4,354.0 626.2,354.0 626.9,354.5 627.7,354.4 628.5,354.5 629.3,354.5 630.0,354.3 630.8,353.9 631.6,353.1 632.4,351.1 633.1,348.0 633.9,346.0 634.7,289.5 635.5,343.0 636.2,341.0 637.0,339.6 637.8,337.0 638.6,335.3 639.3,333.1 640.1,332.0 640.9,330.4 641.7,327.3 642.4,327.4 643.2,323.3 644.0,322.6 644.8,322.0 645.5,321.2 646.3,317.9 647.1,316.7 647.9,320.5 648.6,320.6 649.4,320.7 650.2,324.1 651.0,330.0 651.8,328.5 652.5,331.3 653.3,331.1 654.1,334.3 654.9,337.4 655.6,338.9 656.4,342.2 657.2,344.1 658.0,347.3 658.7,348.0 659.5,352.2 660.3,354.7 661.1,356.6 661.8,356.8 662.6,359.2 663.4,359.4 664.2,361.0 664.9,362.2 665.7,362.8 666.5,363.0 667.3,362.7 668.0,362.4 668.8,362.4 669.6,362.6 670.4,362.4 671.1,362.5 671.9,362.6 672.7,363.2 673.5,362.6 674.2,363.7 675.0,363.8 675.8,363.7 676.6,363.8 677.4,363.0 678.1,364.0 678.9,363.5 679.7,363.2 680.5,363.1 681.2,363.0 682.0,362.5 682.8,362.3 683.6,362.9 684.3,363.6 685.1,362.8 685.9,362.6 686.7,362.8 687.4,361.6 688.2,362.3 689.0,362.3 689.8,362.8 690.5,362.4 691.3,362.7 692.1,362.4 692.9,362.2 693.6,361.3 694.4,362.6 695.2,361.5 696.0,361.4 696.7,361.7 697.5,361.9 698.3,361.9 699.1,361.9 699.8,362.1 700.6,362.6 701.4,360.9 702.2,361.5 703.0,360.4 703.7,361.1 704.5,361.2 705.3,361.0 706.1,360.2 706.8,360.4 707.6,360.9 708.4,359.2 709.2,360.2 709.9,360.3 710.7,359.9 711.5,360.9 712.3,360.7 713.0,361.4 713.8,361.6 714.6,361.6 715.4,362.0 716.1,361.9 716.9,361.6 717.7,361.0 718.5,362.1 719.2,361.7 720.0,361.1 720.8,361.5 721.6,360.9 722.3,361.4 723.1,361.6 723.9,361.5 724.7,361.5 725.5,362.3 726.2,361.7 727.0,362.0 727.8,362.5 728.6,362.1 729.3,362.1 730.1,362.5 730.9,362.2 731.7,362.4 732.4,362.0 733.2,362.2 734.0,362.1 734.8,362.9 735.5,363.1 736.3,362.5 737.1,363.1 737.9,363.2 738.6,362.7 739.4,362.2 740.2,362.7 741.0,361.9 741.7,363.1 742.5,362.6 743.3,363.3 744.1,362.8 744.8,363.6 745.6,363.6 746.4,362.6 747.2,363.2 747.9,363.6 748.7,362.6 749.5,362.0 750.3,363.3 751.1,363.1 751.8,363.4 752.6,363.9 753.4,362.7 754.2,363.9 754.9,363.0 755.7,363.1 756.5,364.0 757.3,363.6 758.0,363.5 758.8,363.0 759.6,364.3 760.4,363.2 761.1,363.7 761.9,363.4 762.7,364.0 763.5,363.2 764.2,363.7 765.0,364.1 765.8,363.8 766.6,363.1 767.3,364.4 768.1,364.4 768.9,363.8 769.7,364.3 770.4,364.4 771.2,364.7 772.0,365.1 772.8,364.4 773.5,364.3 774.3,364.1 775.1,364.4 775.9,364.2 776.7,365.6 777.4,364.6 778.2,365.4 779.0,366.5 779.8,367.2 780.5,366.5 781.3,367.2 782.1,366.1 782.9,368.3 783.6,367.0 784.4,368.0 785.2,367.4 786.0,366.8 786.7,367.7 787.5,369.2 788.3,368.2 789.1,367.5 789.8,367.4 790.6,368.4 791.4,368.3 792.2,368.8 792.9,368.8 793.7,369.3 794.5,369.4 795.3,369.3 796.0,368.2 796.8,369.1 797.6,369.3 798.4,369.4 799.1,369.7 799.9,368.6 800.7,369.9 801.5,369.2 802.3,370.2 803.0,369.7 803.8,370.1 804.6,368.9 805.4,369.8 806.1,370.6 806.9,370.9 807.7,370.9 808.5,370.2 809.2,369.9 810.0,370.2 810.8,370.4 811.6,370.9 812.3,370.6 813.1,371.1 813.9,371.1 814.7,369.8 815.4,370.6 816.2,371.6 817.0,371.4 817.8,372.0 818.5,370.2 819.3,372.3 820.1,371.6 820.9,371.8 821.6,371.0 822.4,372.1 823.2,371.7 824.0,372.4 824.7,371.2 825.5,372.5 826.3,372.8 827.1,373.5 827.9,373.5 828.6,373.2 829.4,372.8 830.2,372.0 831.0,371.7 831.7,373.7 832.5,373.4 833.3,372.5 834.1,371.9 834.8,373.8 835.6,373.4 836.4,372.8 837.2,372.9 837.9,372.7 838.7,373.5 839.5,373.0 840.3,373.8 841.0,373.4 841.8,373.9 842.6,372.7 843.4,373.6 844.1,371.7 844.9,374.1 845.7,371.8 846.5,373.3 847.2,372.7 848.0,373.4 848.8,372.9 849.6,374.3 850.4,373.9 851.1,373.3 851.9,374.0 852.7,373.7 853.5,373.4 854.2,372.2 855.0,373.4 855.8,373.4 856.6,373.1 857.3,372.4 858.1,373.5 858.9,373.7 859.7,372.3 860.4,372.4 861.2,373.5 862.0,374.2 862.8,373.5 863.5,373.2 864.3,373.8 865.1,374.3 865.9,373.3 866.6,373.5 867.4,374.7 868.2,375.1 869.0,374.8 869.7,374.8 870.5,374.7 871.3,375.3 872.1,374.6 872.8,374.2 873.6,375.2 874.4,374.9 875.2,373.8 876.0,374.6 876.7,374.9 877.5,375.3 878.3,374.1 879.1,374.7 879.8,375.5 880.6,375.2 881.4,376.6 882.2,376.2 882.9,374.4 883.7,374.0 884.5,377.4 885.3,375.5 886.0,374.6 886.8,375.6 887.6,374.9 888.4,375.6 889.1,376.6 889.9,365.6 890.7,359.9 891.5,353.3 892.2,355.1 893.0,359.2 893.8,365.3 894.6,369.7 895.3,372.4 896.1,372.7 896.9,368.1 897.7,357.7 898.4,350.3 899.2,334.9 900.0,325.2" fill="none" stroke="#00ffff" stroke-width="1.25" stroke-linejoin="round" marker-start="url(#mc)" marker-mid="url(#mc)" marker-end="url(#mc)"/>
<polyline points="125.0,391.1 125.8,391.0 126.6,391.9 127.3,391.4 128.1,390.3 128.9,390.4 129.7,391.1 130.4,390.8 131.2,391.9 132.0,389.8 132.8,392.0 133.5,390.9 134.3,389.7 135.1,392.8 135.9,392.8 136.6,391.7 137.4,391.7 138.2,391.1 139.0,391.3 139.7,393.2 140.5,390.2 141.3,392.3 142.1,390.7 142.8,391.2 143.6,391.5 144.4,392.4 145.2,390.8 145.9,389.9 146.7,391.8 147.5,390.8 148.3,392.0 149.0,390.1 149.8,390.6 150.6,392.2 151.4,391.3 152.2,389.5 152.9,393.1 153.7,392.6 154.5,391.5 155.3,390.4 156.0,390.6 156.8,391.2 157.6,391.0 158.4,389.6 159.1,390.9 159.9,391.2 160.7,391.9 161.5,390.9 162.2,390.0 163.0,390.8 163.8,390.1 164.6,391.6 165.3,392.7 166.1,391.0 166.9,389.9 167.7,391.5 168.4,391.0 169.2,391.1 170.0,389.7 170.8,390.7 171.5,390.0 172.3,390.3 173.1,391.5 173.9,391.1 174.6,392.0 175.4,390.6 176.2,391.0 177.0,391.4 177.8,391.6 178.5,390.7 179.3,392.2 180.1,389.8 180.9,392.6 181.6,393.0 182.4,391.9 183.2,390.7 184.0,389.8 184.7,389.6 185.5,391.9 186.3,391.5 187.1,391.3 187.8,390.2 188.6,392.1 189.4,393.4 190.2,389.3 190.9,390.9 191.7,390.3 192.5,390.0 193.3,391.0 194.0,391.6 194.8,392.0 195.6,390.8 196.4,393.2 197.1,391.8 197.9,391.7 198.7,392.7 199.5,391.6 200.3,392.1 201.0,390.6 201.8,392.0 202.6,393.5 203.4,392.9 204.1,391.5 204.9,391.3 205.7,391.6 206.5,392.1 207.2,394.5 208.0,390.4 208.8,391.1 209.6,391.1 210.3,390.0 211.1,391.6 211.9,391.2 212.7,392.2 213.4,391.8 214.2,390.4 215.0,391.4 215.8,392.7 216.5,391.5 217.3,393.3 218.1,390.8 218.9,392.1 219.6,390.8 220.4,392.1 221.2,390.7 222.0,391.9 222.7,391.1 223.5,391.2 224.3,389.1 225.1,390.6 225.9,390.4 226.6,390.3 227.4,390.5 228.2,391.3 229.0,389.7 229.7,390.6 230.5,391.7 231.3,392.2 232.1,391.8 232.8,390.0 233.6,390.4 234.4,391.7 235.2,390.9 235.9,390.4 236.7,392.1 237.5,392.3 238.3,392.2 239.0,393.4 239.8,391.7 240.6,391.5 241.4,391.3 242.1,392.5 242.9,391.3 243.7,391.3 244.5,390.8 245.2,390.1 246.0,392.1 246.8,391.8 247.6,392.9 248.3,391.1 249.1,391.2 249.9,392.6 250.7,391.4 251.5,392.2 252.2,391.4 253.0,391.2 253.8,392.1 254.6,391.5 255.3,392.5 256.1,392.6 256.9,391.8 257.7,389.8 258.4,389.2 259.2,391.6 260.0,391.2 260.8,390.9 261.5,391.6 262.3,390.7 263.1,390.6 263.9,389.1 264.6,392.6 265.4,391.2 266.2,391.8 267.0,391.0 267.7,390.1 268.5,392.0 269.3,390.0 270.1,391.5 270.8,391.3 271.6,391.2 272.4,390.4 273.2,390.9 273.9,392.2 274.7,393.3 275.5,393.0 276.3,392.0 277.1,390.5 277.8,391.9 278.6,389.3 279.4,390.1 280.2,379.0 280.9,372.6 281.7,365.8 282.5,363.6 283.3,363.3 284.0,364.6 284.8,368.7 285.6,366.1 286.4,376.1 287.1,380.2 287.9,384.9 288.7,384.7 289.5,387.0 290.2,387.1 291.0,389.3 291.8,388.4 292.6,389.2 293.3,391.5 294.1,390.1 294.9,390.8 295.7,391.7 296.4,390.9 297.2,390.0 298.0,389.7 298.8,391.6 299.5,392.4 300.3,393.0 301.1,390.9 301.9,391.8 302.7,391.6 303.4,392.5 304.2,391.3 305.0,391.5 305.8,390.4 306.5,391.4 307.3,391.8 308.1,390.9 308.9,389.5 309.6,389.5 310.4,392.1 311.2,391.9 312.0,390.8 312.7,391.2 313.5,388.4 314.3,391.0 315.1,391.8 315.8,392.0 316.6,391.3 317.4,391.1 318.2,392.4 318.9,391.8 319.7,390.4 320.5,390.7 321.3,389.9 322.0,391.9 322.8,391.1 323.6,391.5 324.4,390.6 325.2,389.4 325.9,389.1 326.7,390.8 327.5,390.8 328.3,389.2 329.0,389.8 329.8,387.0 330.6,385.3 331.4,384.4 332.1,380.1 332.9,377.7 333.7,376.1 334.5,370.5 335.2,364.3 336.0,365.2 336.8,361.6 337.6,356.8 338.3,350.8 339.1,350.8 339.9,349.8 340.7,351.2 341.4,354.4 342.2,355.0 343.0,355.4 343.8,356.6 344.5,359.1 345.3,357.9 346.1,358.7 346.9,358.9 347.6,359.9 348.4,361.6 349.2,363.1 350.0,365.6 350.8,365.1 351.5,367.1 352.3,370.3 353.1,373.0 353.9,376.9 354.6,380.4 355.4,381.3 356.2,385.6 357.0,385.0 357.7,385.8 358.5,385.3 359.3,386.3 360.1,386.7 360.8,387.5 361.6,386.0 362.4,386.4 363.2,388.6 363.9,388.1 364.7,386.3 365.5,386.8 366.3,388.4 367.0,387.2 367.8,389.0 368.6,389.1 369.4,389.3 370.1,387.9 370.9,387.2 371.7,387.3 372.5,388.1 373.2,386.8 374.0,387.4 374.8,387.8 375.6,387.3 376.4,386.9 377.1,387.4 377.9,388.0 378.7,388.1 379.5,389.5 380.2,387.6 381.0,389.6 381.8,388.6 382.6,388.8 383.3,388.0 384.1,389.2 384.9,386.5 385.7,387.1 386.4,386.7 387.2,387.4 388.0,387.3 388.8,389.2 389.5,388.9 390.3,388.4 391.1,389.1 391.9,388.0 392.6,389.4 393.4,387.9 394.2,389.1 395.0,388.7 395.7,387.6 396.5,387.3 397.3,388.4 398.1,388.0 398.8,388.6 399.6,390.0 400.4,388.4 401.2,387.3 402.0,387.6 402.7,388.4 403.5,389.1 404.3,388.3 405.1,389.0 405.8,388.1 406.6,387.7 407.4,388.9 408.2,387.4 408.9,389.6 409.7,388.2 410.5,389.0 411.3,388.9 412.0,389.2 412.8,390.7 413.6,390.6 414.4,388.4 415.1,389.1 415.9,388.5 416.7,388.9 417.5,388.4 418.2,387.7 419.0,388.2 419.8,383.6 420.6,380.8 421.3,378.0 422.1,375.1 422.9,372.8 423.7,372.6 424.4,369.1 425.2,366.2 426.0,364.2 426.8,361.6 427.6,359.3 428.3,357.0 429.1,355.6 429.9,352.8 430.7,353.1 431.4,351.8 432.2,351.4 433.0,351.7 433.8,350.9 434.5,351.4 435.3,350.9 436.1,352.1 436.9,351.1 437.6,350.6 438.4,350.9 439.2,350.9 440.0,351.3 440.7,351.4 441.5,350.6 442.3,350.8 443.1,351.4 443.8,350.9 444.6,352.1 445.4,351.6 446.2,351.7 446.9,351.5 447.7,351.4 448.5,351.4 449.3,351.4 450.1,351.6 450.8,352.0 451.6,351.0 452.4,351.2 453.2,351.7 453.9,351.2 454.7,351.9 455.5,351.1 456.3,351.2 457.0,352.3 457.8,352.2 458.6,351.8 459.4,352.4 460.1,352.7 460.9,351.9 461.7,351.9 462.5,351.6 463.2,351.8 464.0,351.8 464.8,352.4 465.6,351.6 466.3,352.9 467.1,353.2 467.9,352.8 468.7,352.5 469.4,352.4 470.2,353.2 471.0,353.3 471.8,353.3 472.5,351.7 473.3,352.7 474.1,353.5 474.9,353.7 475.7,353.1 476.4,353.8 477.2,353.6 478.0,353.6 478.8,353.6 479.5,354.1 480.3,354.1 481.1,354.5 481.9,354.0 482.6,354.6 483.4,354.5 484.2,354.2 485.0,354.7 485.7,355.5 486.5,355.0 487.3,355.8 488.1,356.1 488.8,355.2 489.6,355.3 490.4,354.8 491.2,354.6 491.9,355.1 492.7,355.6 493.5,356.1 494.3,354.7 495.0,355.0 495.8,355.7 496.6,356.0 497.4,355.8 498.1,356.3 498.9,356.3 499.7,356.2 500.5,355.5 501.3,355.9 502.0,356.5 502.8,356.3 503.6,356.0 504.4,356.5 505.1,356.4 505.9,356.0 506.7,357.2 507.5,357.1 508.2,356.7 509.0,356.9 509.8,355.8 510.6,356.2 511.3,356.6 512.1,357.1 512.9,356.8 513.7,357.1 514.4,356.5 515.2,357.5 516.0,358.0 516.8,357.6 517.5,357.3 518.3,358.0 519.1,358.5 519.9,357.7 520.6,358.2 521.4,358.7 522.2,358.8 523.0,357.9 523.7,358.8 524.5,358.2 525.3,358.7 526.1,358.3 526.9,358.6 527.6,359.1 528.4,359.3 529.2,359.1 530.0,359.1 530.7,358.8 531.5,358.5 532.3,359.3 533.1,359.3 533.8,359.6 534.6,359.2 535.4,359.9 536.2,359.8 536.9,360.0 537.7,360.1 538.5,360.0 539.3,360.9 540.0,359.8 540.8,360.4 541.6,360.6 542.4,360.5 543.1,359.9 543.9,360.5 544.7,360.3 545.5,360.3 546.2,360.4 547.0,360.6 547.8,360.5 548.6,360.5 549.3,360.8 550.1,361.2 550.9,361.2 551.7,361.3 552.5,360.8 553.2,361.3 554.0,362.4 554.8,361.3 555.6,362.6 556.3,362.1 557.1,361.8 557.9,362.3 558.7,362.6 559.4,362.3 560.2,362.6 561.0,363.3 561.8,362.9 562.5,363.6 563.3,363.8 564.1,363.3 564.9,363.2 565.6,363.6 566.4,363.3 567.2,364.1 568.0,362.8 568.7,363.9 569.5,364.1 570.3,364.4 571.1,364.9 571.8,364.4 572.6,364.2 573.4,364.9 574.2,364.7 574.9,364.4 575.7,365.1 576.5,365.3 577.3,364.9 578.1,365.8 578.8,365.3 579.6,365.7 580.4,365.8 581.2,366.6 581.9,365.9 582.7,362.9 583.5,360.5 584.3,354.3 585.0,351.3 585.8,347.3 586.6,343.2 587.4,343.8 588.1,346.7 588.9,348.0 589.7,351.2 590.5,346.1 591.2,342.7 592.0,337.8 592.8,332.3 593.6,334.6 594.3,341.2 595.1,347.7 595.9,331.7 596.7,335.4 597.4,339.8 598.2,346.1 599.0,357.6 599.8,366.2 600.6,367.9 601.3,368.6 602.1,368.9 602.9,368.7 603.7,368.5 604.4,369.3 605.2,368.8 606.0,368.7 606.8,369.2 607.5,368.7 608.3,368.9 609.1,368.7 609.9,369.9 610.6,368.5 611.4,370.0 612.2,370.7 613.0,370.2 613.7,370.8 614.5,369.8 615.3,369.9 616.1,368.6 616.8,369.6 617.6,369.1 618.4,370.0 619.2,369.4 619.9,368.7 620.7,369.4 621.5,370.0 622.3,369.5 623.0,369.8 623.8,370.7 624.6,370.6 625.4,370.7 626.2,370.3 626.9,370.7 627.7,370.4 628.5,369.7 629.3,369.8 630.0,370.5 630.8,370.9 631.6,369.7 632.4,370.2 633.1,369.0 633.9,367.0 634.7,276.5 635.5,363.0 636.2,360.0 637.0,361.0 637.8,357.3 638.6,355.7 639.3,354.7 640.1,354.4 640.9,350.8 641.7,348.6 642.4,344.0 643.2,341.6 644.0,340.1 644.8,337.3 645.5,336.4 646.3,333.8 647.1,332.5 647.9,333.0 648.6,335.7 649.4,337.3 650.2,338.5 651.0,343.9 651.8,342.3 652.5,346.3 653.3,347.6 654.1,349.4 654.9,354.1 655.6,356.0 656.4,357.9 657.2,361.0 658.0,363.1 658.7,366.2 659.5,368.4 660.3,369.4 661.1,373.0 661.8,376.1 662.6,377.4 663.4,376.5 664.2,377.1 664.9,377.7 665.7,377.8 666.5,378.2 667.3,377.6 668.0,378.9 668.8,378.5 669.6,378.7 670.4,379.2 671.1,379.0 671.9,379.5 672.7,378.8 673.5,378.1 674.2,378.1 675.0,378.6 675.8,378.9 676.6,379.1 677.4,379.6 678.1,379.7 678.9,379.9 679.7,378.9 680.5,378.4 681.2,378.3 682.0,378.5 682.8,377.7 683.6,377.6 684.3,378.8 685.1,379.1 685.9,378.7 686.7,378.6 687.4,378.1 688.2,378.4 689.0,377.5 689.8,378.0 690.5,377.0 691.3,377.9 692.1,378.5 692.9,377.3 693.6,378.4 694.4,378.8 695.2,377.8 696.0,377.7 696.7,376.8 697.5,376.4 698.3,377.9 699.1,377.1 699.8,377.4 700.6,377.9 701.4,377.2 702.2,377.6 703.0,377.1 703.7,377.4 704.5,376.9 705.3,376.6 706.1,376.4 706.8,376.5 707.6,377.1 708.4,377.2 709.2,377.7 709.9,377.3 710.7,377.7 711.5,377.7 712.3,376.8 713.0,376.6 713.8,376.4 714.6,377.9 715.4,377.2 716.1,378.4 716.9,377.3 717.7,377.9 718.5,376.9 719.2,376.6 720.0,376.5 720.8,377.3 721.6,377.0 722.3,377.2 723.1,377.7 723.9,377.7 724.7,377.3 725.5,377.8 726.2,378.1 727.0,377.7 727.8,378.1 728.6,377.6 729.3,377.3 730.1,377.1 730.9,378.2 731.7,378.1 732.4,378.5 733.2,377.7 734.0,379.1 734.8,379.6 735.5,379.1 736.3,379.0 737.1,378.7 737.9,378.8 738.6,379.0 739.4,378.7 740.2,379.0 741.0,379.6 741.7,377.7 742.5,378.5 743.3,379.0 744.1,379.3 744.8,378.7 745.6,379.9 746.4,379.7 747.2,379.2 747.9,379.8 748.7,379.4 749.5,379.2 750.3,379.0 751.1,379.0 751.8,379.1 752.6,378.7 753.4,380.3 754.2,377.9 754.9,379.7 755.7,380.5 756.5,380.2 757.3,380.3 758.0,378.7 758.8,379.5 759.6,379.4 760.4,379.8 761.1,380.2 761.9,380.4 762.7,380.0 763.5,379.5 764.2,380.8 765.0,380.1 765.8,380.7 766.6,380.5 767.3,380.5 768.1,380.9 768.9,381.5 769.7,380.2 770.4,380.8 771.2,380.4 772.0,380.9 772.8,379.6 773.5,382.7 774.3,381.0 775.1,381.3 775.9,380.7 776.7,382.5 777.4,381.5 778.2,381.9 779.0,382.6 779.8,382.7 780.5,382.9 781.3,383.3 782.1,383.0 782.9,382.5 783.6,382.5 784.4,381.6 785.2,384.6 786.0,383.6 786.7,383.7 787.5,383.2 788.3,383.6 789.1,383.5 789.8,383.6 790.6,384.0 791.4,382.9 792.2,384.6 792.9,383.8 793.7,385.2 794.5,384.8 795.3,383.4 796.0,385.4 796.8,385.7 797.6,385.6 798.4,386.2 799.1,386.8 799.9,386.8 800.7,384.9 801.5,385.0 802.3,384.8 803.0,385.0 803.8,384.0 804.6,384.2 805.4,385.2 806.1,384.2 806.9,385.3 807.7,384.6 808.5,385.8 809.2,385.7 810.0,385.5 810.8,384.0 811.6,384.7 812.3,384.2 813.1,384.9 813.9,386.5 814.7,386.5 815.4,385.3 816.2,386.2 817.0,386.6 817.8,386.5 818.5,386.4 819.3,386.1 820.1,385.8 820.9,386.2 821.6,385.8 822.4,387.0 823.2,386.4 824.0,386.8 824.7,386.0 825.5,387.0 826.3,386.8 827.1,385.6 827.9,386.5 828.6,385.1 829.4,387.6 830.2,386.5 831.0,387.4 831.7,388.5 832.5,386.2 833.3,386.1 834.1,387.4 834.8,388.0 835.6,386.0 836.4,388.6 837.2,387.2 837.9,388.4 838.7,387.2 839.5,387.3 840.3,387.0 841.0,387.1 841.8,388.5 842.6,387.8 843.4,386.5 844.1,387.9 844.9,387.1 845.7,386.7 846.5,387.2 847.2,388.1 848.0,387.3 848.8,388.8 849.6,387.8 850.4,388.5 851.1,387.5 851.9,388.0 852.7,388.6 853.5,386.4 854.2,388.0 855.0,387.2 855.8,388.2 856.6,388.8 857.3,387.5 858.1,389.0 858.9,387.7 859.7,386.1 860.4,388.5 861.2,388.3 862.0,386.9 862.8,388.0 863.5,387.1 864.3,388.6 865.1,387.5 865.9,388.9 866.6,388.0 867.4,388.8 868.2,389.0 869.0,388.5 869.7,388.0 870.5,388.5 871.3,387.6 872.1,388.0 872.8,388.3 873.6,389.4 874.4,389.4 875.2,388.7 876.0,389.3 876.7,390.3 877.5,390.7 878.3,391.2 879.1,389.6 879.8,388.9 880.6,389.6 881.4,390.5 882.2,390.3 882.9,388.9 883.7,389.5 884.5,389.7 885.3,390.2 886.0,389.8 886.8,388.8 887.6,389.5 888.4,388.6 889.1,389.2 889.9,383.3 890.7,375.0 891.5,369.0 892.2,370.5 893.0,374.5 893.8,378.6 894.6,382.6 895.3,384.2 896.1,383.2 896.9,377.4 897.7,368.4 898.4,352.9 899.2,348.1 900.0,345.0" fill="none" stroke="#ff00ff" stroke-width="1.25" stroke-linejoin="round" marker-start="url(#mm)" marker-mid="url(#mm)" marker-end="url(#mm)"/>
<polyline points="125.0,403.6 125.8,403.7 126.6,403.9 127.3,403.9 128.1,404.4 128.9,404.3 129.7,404.2 130.4,404.4 131.2,403.4 132.0,404.1 132.8,403.2 133.5,404.4 134.3,404.9 135.1,404.5 135.9,403.8 136.6,404.2 137.4,403.3 138.2,403.2 139.0,402.9 139.7,404.4 140.5,403.5 141.3,403.0 142.1,404.0 142.8,405.6 143.6,403.6 144.4,403.6 145.2,404.2 145.9,404.4 146.7,404.1 147.5,404.6 148.3,404.9 149.0,405.6 149.8,404.6 150.6,404.6 151.4,405.4 152.2,405.3 152.9,404.6 153.7,404.2 154.5,404.2 155.3,404.6 156.0,403.7 156.8,405.1 157.6,403.7 158.4,405.1 159.1,404.3 159.9,404.1 160.7,406.2 161.5,404.4 162.2,404.8 163.0,406.2 163.8,403.9 164.6,403.2 165.3,404.9 166.1,403.0 166.9,404.3 167.7,403.5 168.4,403.1 169.2,404.2 170.0,404.5 170.8,402.5 171.5,403.6 172.3,404.3 173.1,403.9 173.9,404.6 174.6,404.1 175.4,404.3 176.2,403.9 177.0,403.5 177.8,403.8 178.5,403.8 179.3,404.9 180.1,404.6 180.9,405.3 181.6,404.2 182.4,404.8 183.2,405.7 184.0,404.0 184.7,403.8 185.5,405.1 186.3,403.8 187.1,403.8 187.8,404.5 188.6,404.2 189.4,404.2 190.2,404.2 190.9,403.6 191.7,403.8 192.5,403.6 193.3,403.8 194.0,404.3 194.8,404.8 195.6,404.6 196.4,404.1 197.1,403.6 197.9,404.6 198.7,403.7 199.5,404.1 200.3,404.1 201.0,404.6 201.8,404.8 202.6,403.2 203.4,404.5 204.1,404.1 204.9,403.5 205.7,405.2 206.5,404.6 207.2,404.2 208.0,404.5 208.8,404.4 209.6,404.5 210.3,405.1 211.1,405.7 211.9,404.6 212.7,405.3 213.4,405.0 214.2,404.6 215.0,404.7 215.8,404.3 216.5,403.9 217.3,404.2 218.1,404.2 218.9,403.3 219.6,404.1 220.4,404.7 221.2,404.2 222.0,404.2 222.7,404.5 223.5,403.7 224.3,404.9 225.1,404.8 225.9,403.6 226.6,403.8 227.4,403.3 228.2,404.3 229.0,404.6 229.7,405.2 230.5,404.5 231.3,403.7 232.1,403.8 232.8,403.6 233.6,404.3 234.4,404.7 235.2,404.7 235.9,405.0 236.7,404.2 237.5,404.5 238.3,403.6 239.0,404.6 239.8,404.5 240.6,403.9 241.4,404.2 242.1,403.7 242.9,405.1 243.7,404.6 244.5,404.0 245.2,403.2 246.0,403.7 246.8,403.6 247.6,403.5 248.3,404.2 249.1,404.2 249.9,403.7 250.7,403.3 251.5,403.8 252.2,404.0 253.0,403.6 253.8,404.1 254.6,404.5 255.3,404.0 256.1,404.0 256.9,403.7 257.7,404.2 258.4,404.3 259.2,403.7 260.0,402.5 260.8,404.3 261.5,403.1 262.3,404.9 263.1,403.9 263.9,404.6 264.6,405.3 265.4,403.4 266.2,404.4 267.0,404.4 267.7,403.9 268.5,402.6 269.3,404.0 270.1,404.9 270.8,404.1 271.6,404.7 272.4,404.4 273.2,404.6 273.9,404.0 274.7,403.3 275.5,404.9 276.3,403.8 277.1,403.8 277.8,403.4 278.6,404.6 279.4,405.0 280.2,404.3 280.9,403.5 281.7,403.9 282.5,403.0 283.3,404.0 284.0,402.9 284.8,405.7 285.6,404.2 286.4,404.7 287.1,403.8 287.9,404.1 288.7,404.6 289.5,404.9 290.2,404.6 291.0,405.2 291.8,405.2 292.6,405.1 293.3,404.9 294.1,404.0 294.9,404.5 295.7,404.8 296.4,403.6 297.2,403.9 298.0,404.9 298.8,403.9 299.5,404.8 300.3,404.1 301.1,403.9 301.9,404.3 302.7,405.0 303.4,403.9 304.2,404.3 305.0,404.1 305.8,404.0 306.5,404.3 307.3,405.3 308.1,404.4 308.9,405.4 309.6,405.0 310.4,404.7 311.2,404.5 312.0,404.6 312.7,404.2 313.5,405.2 314.3,403.9 315.1,404.3 315.8,403.7 316.6,404.2 317.4,404.1 318.2,404.9 318.9,405.3 319.7,404.9 320.5,404.4 321.3,405.3 322.0,404.7 322.8,404.4 323.6,405.0 324.4,403.7 325.2,403.7 325.9,403.4 326.7,404.4 327.5,403.6 328.3,403.1 329.0,403.5 329.8,402.8 330.6,403.2 331.4,403.7 332.1,403.9 332.9,404.1 333.7,404.8 334.5,404.6 335.2,404.7 336.0,403.7 336.8,404.7 337.6,403.4 338.3,404.7 339.1,404.2 339.9,404.2 340.7,403.9 341.4,403.3 342.2,404.3 343.0,403.2 343.8,402.9 344.5,403.7 345.3,404.4 346.1,404.4 346.9,403.5 347.6,404.8 348.4,404.1 349.2,403.1 350.0,404.0 350.8,402.8 351.5,404.3 352.3,403.6 353.1,404.0 353.9,403.0 354.6,404.7 355.4,404.2 356.2,403.8 357.0,402.7 357.7,402.6 358.5,403.2 359.3,402.9 360.1,403.3 360.8,402.5 361.6,403.1 362.4,402.9 363.2,404.1 363.9,403.2 364.7,402.3 365.5,403.7 366.3,401.9 367.0,402.8 367.8,403.1 368.6,402.6 369.4,402.9 370.1,402.8 370.9,403.0 371.7,402.2 372.5,403.0 373.2,403.4 374.0,403.0 374.8,403.3 375.6,403.2 376.4,403.4 377.1,402.5 377.9,403.4 378.7,403.2 379.5,403.2 380.2,402.6 381.0,403.5 381.8,402.6 382.6,402.2 383.3,403.1 384.1,402.1 384.9,403.1 385.7,402.9 386.4,402.9 387.2,402.9 388.0,403.0 388.8,401.9 389.5,402.4 390.3,402.5 391.1,402.5 391.9,402.5 392.6,402.3 393.4,402.5 394.2,403.2 395.0,401.9 395.7,402.6 396.5,401.9 397.3,402.5 398.1,402.6 398.8,403.3 399.6,402.9 400.4,402.1 401.2,401.7 402.0,402.4 402.7,403.1 403.5,401.8 404.3,402.9 405.1,402.3 405.8,402.9 406.6,402.1 407.4,402.1 408.2,402.3 408.9,402.3 409.7,402.1 410.5,402.4 411.3,402.0 412.0,402.4 412.8,402.5 413.6,401.7 414.4,402.4 415.1,402.9 415.9,402.3 416.7,401.9 417.5,402.2 418.2,402.9 419.0,402.5 419.8,402.2 420.6,400.7 421.3,398.4 422.1,397.1 422.9,390.3 423.7,389.1 424.4,384.8 425.2,379.9 426.0,374.2 426.8,374.1 427.6,370.7 428.3,367.2 429.1,366.1 429.9,362.0 430.7,362.2 431.4,359.3 432.2,356.3 433.0,355.8 433.8,355.2 434.5,355.0 435.3,355.1 436.1,354.8 436.9,353.4 437.6,354.0 438.4,354.7 439.2,353.0 440.0,352.2 440.7,352.8 441.5,352.4 442.3,352.5 443.1,351.3 443.8,352.0 444.6,352.2 445.4,351.5 446.2,350.4 446.9,351.5 447.7,351.4 448.5,351.2 449.3,352.3 450.1,350.3 450.8,350.7 451.6,350.6 452.4,350.8 453.2,350.1 453.9,349.1 454.7,349.8 455.5,349.6 456.3,350.6 457.0,349.2 457.8,349.7 458.6,349.1 459.4,349.6 460.1,349.2 460.9,349.2 461.7,349.3 462.5,348.3 463.2,348.6 464.0,348.2 464.8,348.4 465.6,348.6 466.3,348.4 467.1,348.8 467.9,348.5 468.7,348.6 469.4,349.0 470.2,349.6 471.0,348.1 471.8,348.9 472.5,348.7 473.3,347.9 474.1,349.0 474.9,348.5 475.7,349.5 476.4,349.3 477.2,348.7 478.0,350.5 478.8,349.2 479.5,350.5 480.3,349.6 481.1,350.2 481.9,350.3 482.6,349.6 483.4,349.1 484.2,350.8 485.0,349.6 485.7,349.8 486.5,349.8 487.3,350.7 488.1,350.2 488.8,350.0 489.6,351.0 490.4,351.1 491.2,350.4 491.9,350.2 492.7,350.6 493.5,351.3 494.3,350.4 495.0,351.3 495.8,351.7 496.6,350.9 497.4,350.0 498.1,351.4 498.9,350.9 499.7,351.7 500.5,352.2 501.3,352.9 502.0,351.5 502.8,351.0 503.6,351.7 504.4,351.7 505.1,351.5 505.9,352.1 506.7,351.7 507.5,352.7 508.2,352.9 509.0,352.7 509.8,351.9 510.6,352.5 511.3,352.4 512.1,351.4 512.9,351.3 513.7,352.8 514.4,352.2 515.2,352.1 516.0,352.4 516.8,351.7 517.5,352.2 518.3,352.7 519.1,353.3 519.9,352.8 520.6,352.1 521.4,353.1 522.2,352.7 523.0,352.7 523.7,352.1 524.5,352.5 525.3,353.2 526.1,353.6 526.9,353.7 527.6,352.9 528.4,353.8 529.2,353.4 530.0,352.8 530.7,354.1 531.5,353.7 532.3,353.3 533.1,353.9 533.8,353.3 534.6,353.2 535.4,353.3 536.2,353.1 536.9,353.0 537.7,353.1 538.5,355.0 539.3,353.3 540.0,355.0 540.8,354.1 541.6,354.9 542.4,353.9 543.1,354.5 543.9,354.1 544.7,353.9 545.5,354.7 546.2,353.5 547.0,354.6 547.8,354.6 548.6,353.9 549.3,354.8 550.1,352.7 550.9,352.6 551.7,353.2 552.5,353.0 553.2,354.0 554.0,353.9 554.8,354.1 555.6,353.9 556.3,354.6 557.1,353.8 557.9,355.1 558.7,354.3 559.4,354.9 560.2,354.8 561.0,354.3 561.8,354.8 562.5,354.9 563.3,355.4 564.1,355.7 564.9,356.3 565.6,355.1 566.4,355.3 567.2,356.0 568.0,355.6 568.7,355.5 569.5,356.3 570.3,355.8 571.1,355.4 571.8,355.5 572.6,356.5 573.4,356.1 574.2,356.0 574.9,356.6 575.7,356.2 576.5,356.4 577.3,357.1 578.1,356.5 578.8,356.2 579.6,356.2 580.4,356.6 581.2,356.8 581.9,357.6 582.7,357.1 583.5,357.9 584.3,356.6 585.0,357.2 585.8,357.0 586.6,357.3 587.4,357.6 588.1,358.0 588.9,357.7 589.7,358.2 590.5,357.5 591.2,358.2 592.0,358.9 592.8,357.6 593.6,358.0 594.3,358.5 595.1,358.6 595.9,358.0 596.7,358.7 597.4,359.0 598.2,358.3 599.0,358.6 599.8,358.2 600.6,358.8 601.3,360.1 602.1,360.2 602.9,359.6 603.7,360.6 604.4,360.6 605.2,361.2 606.0,362.3 606.8,361.5 607.5,362.3 608.3,362.4 609.1,362.6 609.9,363.0 610.6,363.6 611.4,364.4 612.2,364.9 613.0,365.7 613.7,365.2 614.5,365.5 615.3,363.8 616.1,363.8 616.8,363.6 617.6,362.7 618.4,364.0 619.2,363.2 619.9,361.9 620.7,362.6 621.5,362.5 622.3,363.5 623.0,362.9 623.8,362.8 624.6,363.8 625.4,363.9 626.2,363.8 626.9,363.2 627.7,365.1 628.5,364.3 629.3,363.9 630.0,364.8 630.8,365.2 631.6,365.4 632.4,365.3 633.1,365.0 633.9,308.0 634.7,264.0 635.5,298.0 636.2,366.0 637.0,367.3 637.8,367.6 638.6,367.3 639.3,368.2 640.1,367.9 640.9,367.5 641.7,368.7 642.4,368.2 643.2,368.8 644.0,369.0 644.8,368.1 645.5,369.0 646.3,368.5 647.1,369.4 647.9,369.0 648.6,369.5 649.4,368.3 650.2,369.0 651.0,368.5 651.8,369.0 652.5,368.8 653.3,368.2 654.1,369.8 654.9,369.9 655.6,369.3 656.4,369.2 657.2,370.3 658.0,369.9 658.7,370.3 659.5,370.0 660.3,370.2 661.1,371.5 661.8,371.1 662.6,371.9 663.4,371.5 664.2,371.3 664.9,371.2 665.7,372.2 666.5,372.5 667.3,372.1 668.0,372.8 668.8,373.0 669.6,373.3 670.4,373.0 671.1,373.1 671.9,373.2 672.7,373.0 673.5,373.7 674.2,373.5 675.0,374.1 675.8,374.3 676.6,373.8 677.4,373.7 678.1,374.0 678.9,373.6 679.7,373.3 680.5,373.9 681.2,373.2 682.0,373.7 682.8,373.1 683.6,373.7 684.3,372.6 685.1,372.4 685.9,372.9 686.7,372.0 687.4,372.4 688.2,372.8 689.0,371.8 689.8,372.1 690.5,372.0 691.3,372.5 692.1,371.7 692.9,373.0 693.6,372.1 694.4,372.2 695.2,372.0 696.0,372.2 696.7,372.2 697.5,372.7 698.3,372.3 699.1,372.2 699.8,371.9 700.6,371.4 701.4,371.6 702.2,371.7 703.0,371.7 703.7,372.1 704.5,371.8 705.3,371.7 706.1,371.4 706.8,371.0 707.6,371.0 708.4,371.2 709.2,371.9 709.9,371.5 710.7,371.1 711.5,371.3 712.3,370.8 713.0,371.3 713.8,371.5 714.6,370.9 715.4,371.8 716.1,372.2 716.9,372.1 717.7,371.8 718.5,372.2 719.2,371.2 720.0,371.6 720.8,372.1 721.6,371.3 722.3,372.0 723.1,372.6 723.9,372.3 724.7,372.5 725.5,372.5 726.2,371.8 727.0,372.2 727.8,372.9 728.6,372.6 729.3,372.2 730.1,372.0 730.9,372.2 731.7,371.6 732.4,372.5 733.2,373.1 734.0,373.1 734.8,372.2 735.5,373.2 736.3,373.0 737.1,373.2 737.9,372.7 738.6,373.3 739.4,373.0 740.2,373.4 741.0,373.4 741.7,372.5 742.5,372.7 743.3,372.8 744.1,373.2 744.8,373.3 745.6,373.1 746.4,373.4 747.2,373.6 747.9,373.1 748.7,373.5 749.5,373.3 750.3,373.7 751.1,373.9 751.8,373.5 752.6,374.1 753.4,373.7 754.2,373.6 754.9,373.4 755.7,373.9 756.5,374.2 757.3,373.8 758.0,374.0 758.8,374.4 759.6,374.0 760.4,373.8 761.1,374.1 761.9,374.3 762.7,373.7 763.5,374.2 764.2,374.4 765.0,374.5 765.8,373.7 766.6,374.6 767.3,374.1 768.1,374.9 768.9,374.8 769.7,374.7 770.4,375.0 771.2,374.6 772.0,374.7 772.8,374.0 773.5,374.5 774.3,374.2 775.1,375.0 775.9,375.2 776.7,375.4 777.4,376.3 778.2,377.2 779.0,377.5 779.8,377.8 780.5,378.5 781.3,378.4 782.1,379.0 782.9,378.7 783.6,379.5 784.4,378.9 785.2,379.8 786.0,379.9 786.7,379.8 787.5,379.9 788.3,379.8 789.1,380.1 789.8,379.6 790.6,380.1 791.4,380.7 792.2,380.8 792.9,379.6 793.7,381.0 794.5,381.3 795.3,381.2 796.0,381.6 796.8,381.8 797.6,381.7 798.4,382.0 799.1,381.7 799.9,381.9 800.7,381.6 801.5,383.1 802.3,383.7 803.0,383.7 803.8,384.7 804.6,385.7 805.4,386.6 806.1,387.2 806.9,388.0 807.7,388.7 808.5,389.6 809.2,389.0 810.0,389.0 810.8,389.1 811.6,389.3 812.3,389.5 813.1,389.4 813.9,389.6 814.7,389.7 815.4,389.9 816.2,390.3 817.0,390.2 817.8,390.8 818.5,390.4 819.3,391.0 820.1,390.8 820.9,391.1 821.6,391.0 822.4,391.3 823.2,391.2 824.0,391.8 824.7,391.8 825.5,391.3 826.3,391.3 827.1,391.8 827.9,391.9 828.6,392.1 829.4,392.2 830.2,392.6 831.0,393.1 831.7,392.4 832.5,392.1 833.3,392.5 834.1,392.9 834.8,393.2 835.6,392.8 836.4,393.2 837.2,393.0 837.9,393.5 838.7,394.1 839.5,394.0 840.3,394.4 841.0,394.4 841.8,394.6 842.6,394.7 843.4,394.6 844.1,394.9 844.9,394.7 845.7,394.6 846.5,394.6 847.2,394.7 848.0,394.8 848.8,395.1 849.6,394.7 850.4,395.3 851.1,395.7 851.9,396.1 852.7,394.7 853.5,394.4 854.2,395.2 855.0,394.9 855.8,395.1 856.6,395.4 857.3,395.6 858.1,395.3 858.9,394.9 859.7,394.6 860.4,395.2 861.2,396.0 862.0,395.5 862.8,395.1 863.5,395.6 864.3,395.8 865.1,396.4 865.9,396.0 866.6,395.5 867.4,396.1 868.2,396.1 869.0,396.1 869.7,396.0 870.5,396.4 871.3,396.1 872.1,396.1 872.8,396.4 873.6,396.4 874.4,397.0 875.2,396.4 876.0,396.7 876.7,396.1 877.5,396.6 878.3,396.8 879.1,397.7 879.8,397.9 880.6,397.3 881.4,397.6 882.2,397.7 882.9,398.0 883.7,397.2 884.5,398.1 885.3,399.2 886.0,398.2 886.8,399.0 887.6,398.3 888.4,399.2 889.1,399.3 889.9,399.3 890.7,398.6 891.5,399.7 892.2,398.3 893.0,398.8 893.8,399.6 894.6,399.8 895.3,399.5 896.1,399.5 896.9,399.1 897.7,397.9 898.4,396.3 899.2,392.7 900.0,389.0" fill="none" stroke="#00ff00" stroke-width="1.25" stroke-linejoin="round" marker-start="url(#ml)" marker-mid="url(#ml)" marker-end="url(#ml)"/>
<polyline points="125.0,408.0 125.8,410.5 126.6,407.8 127.3,409.1 128.1,408.8 128.9,407.9 129.7,408.2 130.4,408.6 131.2,408.8 132.0,408.5 132.8,406.8 133.5,409.6 134.3,410.3 135.1,408.2 135.9,406.6 136.6,407.9 137.4,407.5 138.2,404.8 139.0,407.9 139.7,409.3 140.5,409.0 141.3,409.1 142.1,406.9 142.8,408.6 143.6,408.6 144.4,405.7 145.2,408.2 145.9,409.9 146.7,407.2 147.5,408.4 148.3,407.6 149.0,408.1 149.8,407.8 150.6,407.5 151.4,408.2 152.2,408.9 152.9,407.1 153.7,408.1 154.5,408.1 155.3,407.6 156.0,406.5 156.8,406.8 157.6,405.1 158.4,409.5 159.1,407.5 159.9,408.3 160.7,405.8 161.5,406.6 162.2,407.5 163.0,406.1 163.8,406.9 164.6,409.9 165.3,407.9 166.1,407.8 166.9,408.0 167.7,408.2 168.4,408.1 169.2,408.9 170.0,407.6 170.8,408.9 171.5,409.2 172.3,409.4 173.1,410.0 173.9,408.8 174.6,407.8 175.4,407.4 176.2,405.4 177.0,406.5 177.8,407.5 178.5,408.1 179.3,409.0 180.1,406.0 180.9,410.9 181.6,407.5 182.4,408.8 183.2,407.7 184.0,409.8 184.7,409.1 185.5,409.8 186.3,408.0 187.1,407.3 187.8,407.7 188.6,407.6 189.4,405.5 190.2,406.0 190.9,405.2 191.7,408.6 192.5,406.7 193.3,408.1 194.0,408.6 194.8,408.5 195.6,407.9 196.4,404.6 197.1,405.9 197.9,408.4 198.7,406.8 199.5,408.0 200.3,408.3 201.0,407.4 201.8,409.3 202.6,407.1 203.4,406.4 204.1,408.6 204.9,408.2 205.7,411.0 206.5,410.2 207.2,409.4 208.0,407.3 208.8,406.3 209.6,408.5 210.3,408.9 211.1,407.3 211.9,406.6 212.7,408.2 213.4,409.6 214.2,407.9 215.0,409.8 215.8,407.7 216.5,408.7 217.3,409.4 218.1,408.1 218.9,409.9 219.6,407.1 220.4,408.2 221.2,409.1 222.0,409.2 222.7,407.4 223.5,407.1 224.3,407.8 225.1,409.5 225.9,406.0 226.6,408.1 227.4,408.2 228.2,405.4 229.0,406.0 229.7,407.5 230.5,408.0 231.3,406.6 232.1,407.4 232.8,406.4 233.6,409.3 234.4,407.0 235.2,407.3 235.9,406.1 236.7,407.2 237.5,409.1 238.3,406.3 239.0,406.0 239.8,406.3 240.6,406.3 241.4,405.0 242.1,407.9 242.9,407.4 243.7,410.2 244.5,408.2 245.2,406.3 246.0,408.0 246.8,408.0 247.6,407.8 248.3,409.1 249.1,407.1 249.9,406.3 250.7,407.8 251.5,405.6 252.2,408.1 253.0,407.3 253.8,406.7 254.6,407.7 255.3,405.9 256.1,405.9 256.9,407.1 257.7,409.0 258.4,407.9 259.2,406.8 260.0,409.0 260.8,407.5 261.5,407.4 262.3,405.0 263.1,406.1 263.9,408.0 264.6,406.3 265.4,410.1 266.2,409.1 267.0,406.8 267.7,407.8 268.5,408.1 269.3,406.8 270.1,409.0 270.8,407.3 271.6,408.3 272.4,409.9 273.2,409.1 273.9,406.9 274.7,408.2 275.5,408.3 276.3,404.5 277.1,405.6 277.8,406.7 278.6,403.7 279.4,407.0 280.2,407.6 280.9,402.8 281.7,401.2 282.5,398.4 283.3,400.6 284.0,403.6 284.8,404.9 285.6,406.8 286.4,405.5 287.1,408.3 287.9,407.3 288.7,406.9 289.5,407.1 290.2,409.9 291.0,406.7 291.8,405.5 292.6,407.9 293.3,408.3 294.1,407.1 294.9,406.2 295.7,407.3 296.4,407.4 297.2,406.9 298.0,408.6 298.8,408.3 299.5,407.7 300.3,408.1 301.1,407.2 301.9,407.8 302.7,406.9 303.4,408.6 304.2,406.8 305.0,406.9 305.8,407.0 306.5,407.5 307.3,408.2 308.1,408.6 308.9,409.7 309.6,410.1 310.4,409.1 311.2,408.4 312.0,409.4 312.7,407.7 313.5,409.4 314.3,408.3 315.1,406.8 315.8,407.9 316.6,404.9 317.4,406.2 318.2,408.2 318.9,408.3 319.7,406.2 320.5,406.4 321.3,408.6 322.0,406.9 322.8,406.7 323.6,408.1 324.4,405.2 325.2,408.3 325.9,406.5 326.7,406.8 327.5,408.0 328.3,407.2 329.0,407.4 329.8,406.5 330.6,409.2 331.4,408.3 332.1,405.5 332.9,410.3 333.7,407.9 334.5,407.5 335.2,402.2 336.0,404.1 336.8,398.1 337.6,395.4 338.3,391.6 339.1,389.0 339.9,389.1 340.7,392.7 341.4,395.6 342.2,395.3 343.0,399.0 343.8,395.5 344.5,396.7 345.3,396.7 346.1,392.0 346.9,393.8 347.6,395.4 348.4,397.5 349.2,397.7 350.0,397.2 350.8,398.6 351.5,401.2 352.3,402.0 353.1,401.7 353.9,402.4 354.6,402.9 355.4,404.7 356.2,407.7 357.0,407.7 357.7,407.9 358.5,407.1 359.3,409.4 360.1,406.1 360.8,408.5 361.6,407.5 362.4,407.7 363.2,406.8 363.9,406.8 364.7,406.6 365.5,407.0 366.3,405.7 367.0,408.0 367.8,408.9 368.6,406.7 369.4,405.8 370.1,404.5 370.9,407.7 371.7,407.1 372.5,407.5 373.2,406.7 374.0,408.0 374.8,408.9 375.6,407.8 376.4,407.8 377.1,407.3 377.9,407.5 378.7,408.1 379.5,405.2 380.2,405.5 381.0,405.8 381.8,408.4 382.6,405.7 383.3,407.3 384.1,407.5 384.9,406.6 385.7,407.3 386.4,407.0 387.2,405.8 388.0,406.5 388.8,408.0 389.5,408.2 390.3,405.1 391.1,406.4 391.9,408.1 392.6,405.2 393.4,406.4 394.2,405.5 395.0,407.7 395.7,407.2 396.5,407.8 397.3,405.4 398.1,407.0 398.8,404.5 399.6,408.1 400.4,406.7 401.2,405.5 402.0,407.8 402.7,406.5 403.5,405.5 404.3,407.1 405.1,405.8 405.8,409.2 406.6,407.4 407.4,408.8 408.2,405.5 408.9,406.2 409.7,406.0 410.5,403.2 411.3,405.3 412.0,404.9 412.8,405.4 413.6,408.7 414.4,405.3 415.1,404.6 415.9,406.0 416.7,405.6 417.5,406.7 418.2,406.2 419.0,404.8 419.8,401.9 420.6,404.8 421.3,400.4 422.1,400.8 422.9,398.6 423.7,395.9 424.4,394.0 425.2,392.3 426.0,390.0 426.8,386.5 427.6,382.4 428.3,380.8 429.1,379.2 429.9,377.4 430.7,374.2 431.4,371.0 432.2,369.7 433.0,367.9 433.8,368.1 434.5,366.1 435.3,366.1 436.1,365.4 436.9,366.2 437.6,366.7 438.4,367.6 439.2,367.1 440.0,366.9 440.7,365.8 441.5,366.2 442.3,366.3 443.1,366.2 443.8,365.6 444.6,365.4 445.4,364.9 446.2,363.7 446.9,364.1 447.7,364.9 448.5,363.2 449.3,362.9 450.1,362.6 450.8,363.7 451.6,361.4 452.4,361.4 453.2,361.2 453.9,361.3 454.7,361.7 455.5,361.4 456.3,362.5 457.0,361.8 457.8,361.0 458.6,361.2 459.4,361.4 460.1,362.4 460.9,361.1 461.7,362.4 462.5,362.1 463.2,361.2 464.0,360.9 464.8,361.2 465.6,360.9 466.3,361.7 467.1,360.9 467.9,359.9 468.7,361.5 469.4,361.7 470.2,361.0 471.0,361.0 471.8,361.0 472.5,362.3 473.3,361.1 474.1,361.3 474.9,362.0 475.7,361.6 476.4,361.6 477.2,362.1 478.0,362.5 478.8,362.0 479.5,361.5 480.3,361.8 481.1,362.6 481.9,361.5 482.6,362.2 483.4,362.2 484.2,361.6 485.0,363.0 485.7,362.4 486.5,362.5 487.3,362.5 488.1,362.0 488.8,362.9 489.6,363.9 490.4,363.5 491.2,362.8 491.9,363.2 492.7,363.3 493.5,363.5 494.3,363.3 495.0,362.3 495.8,362.9 496.6,362.8 497.4,363.6 498.1,363.9 498.9,365.1 499.7,364.2 500.5,364.3 501.3,363.9 502.0,363.9 502.8,364.1 503.6,363.9 504.4,364.3 505.1,364.7 505.9,364.4 506.7,364.9 507.5,365.0 508.2,364.7 509.0,364.7 509.8,366.1 510.6,364.4 511.3,364.5 512.1,363.9 512.9,363.9 513.7,364.3 514.4,365.4 515.2,365.7 516.0,366.1 516.8,366.0 517.5,365.8 518.3,366.5 519.1,365.8 519.9,366.0 520.6,365.9 521.4,366.5 522.2,366.7 523.0,366.8 523.7,366.0 524.5,366.4 525.3,367.2 526.1,367.2 526.9,367.3 527.6,366.8 528.4,367.5 529.2,368.1 530.0,368.3 530.7,367.8 531.5,368.2 532.3,368.3 533.1,367.1 533.8,367.4 534.6,368.0 535.4,368.0 536.2,367.5 536.9,368.2 537.7,369.1 538.5,369.2 539.3,368.6 540.0,368.7 540.8,368.8 541.6,369.0 542.4,369.2 543.1,369.7 543.9,369.7 544.7,370.1 545.5,369.6 546.2,368.7 547.0,368.7 547.8,368.6 548.6,368.5 549.3,369.3 550.1,367.9 550.9,368.4 551.7,368.6 552.5,368.1 553.2,367.9 554.0,368.0 554.8,367.8 555.6,367.8 556.3,367.9 557.1,367.8 557.9,368.1 558.7,369.0 559.4,368.8 560.2,368.2 561.0,368.9 561.8,368.4 562.5,368.7 563.3,368.7 564.1,369.0 564.9,368.5 565.6,368.8 566.4,369.2 567.2,368.8 568.0,370.0 568.7,369.8 569.5,369.6 570.3,369.8 571.1,369.8 571.8,369.7 572.6,370.5 573.4,370.7 574.2,370.9 574.9,371.2 575.7,371.4 576.5,371.2 577.3,371.6 578.1,371.3 578.8,370.7 579.6,371.0 580.4,371.2 581.2,371.5 581.9,372.1 582.7,371.9 583.5,371.6 584.3,371.7 585.0,371.4 585.8,371.2 586.6,371.1 587.4,370.8 588.1,370.1 588.9,369.6 589.7,368.9 590.5,368.7 591.2,367.6 592.0,364.6 592.8,365.2 593.6,366.8 594.3,368.4 595.1,366.2 595.9,364.2 596.7,364.8 597.4,366.2 598.2,368.2 599.0,370.2 599.8,370.4 600.6,370.9 601.3,371.4 602.1,372.2 602.9,372.3 603.7,372.5 604.4,373.6 605.2,373.9 606.0,374.4 606.8,375.1 607.5,375.1 608.3,374.9 609.1,376.1 609.9,375.4 610.6,376.9 611.4,377.0 612.2,378.3 613.0,377.1 613.7,377.7 614.5,377.8 615.3,377.5 616.1,376.6 616.8,376.5 617.6,375.9 618.4,375.8 619.2,375.6 619.9,375.1 620.7,375.5 621.5,375.0 622.3,376.0 623.0,376.1 623.8,375.5 624.6,376.8 625.4,377.5 626.2,377.8 626.9,377.7 627.7,378.7 628.5,377.9 629.3,378.3 630.0,377.7 630.8,378.1 631.6,377.6 632.4,378.4 633.1,378.5 633.9,263.5 634.7,372.0 635.5,263.0 636.2,378.0 637.0,378.5 637.8,378.6 638.6,378.6 639.3,378.5 640.1,377.9 640.9,377.4 641.7,377.8 642.4,377.1 643.2,377.8 644.0,375.6 644.8,372.3 645.5,370.4 646.3,369.0 647.1,367.9 647.9,369.2 648.6,369.6 649.4,372.1 650.2,373.3 651.0,375.6 651.8,377.7 652.5,376.9 653.3,377.4 654.1,377.7 654.9,380.0 655.6,379.8 656.4,381.0 657.2,379.5 658.0,380.7 658.7,381.0 659.5,380.8 660.3,382.0 661.1,382.2 661.8,382.2 662.6,383.3 663.4,383.8 664.2,382.7 664.9,384.2 665.7,384.1 666.5,384.8 667.3,384.4 668.0,385.0 668.8,385.1 669.6,385.3 670.4,385.2 671.1,385.9 671.9,386.3 672.7,386.5 673.5,386.6 674.2,386.2 675.0,386.6 675.8,386.4 676.6,385.0 677.4,386.8 678.1,385.5 678.9,386.3 679.7,385.4 680.5,385.2 681.2,385.7 682.0,386.4 682.8,386.6 683.6,386.3 684.3,386.1 685.1,385.2 685.9,386.9 686.7,385.0 687.4,385.5 688.2,385.4 689.0,385.5 689.8,386.0 690.5,385.3 691.3,384.6 692.1,383.8 692.9,384.4 693.6,384.5 694.4,384.9 695.2,383.2 696.0,383.9 696.7,383.4 697.5,383.7 698.3,385.3 699.1,384.4 699.8,384.6 700.6,384.2 701.4,383.2 702.2,384.4 703.0,383.5 703.7,383.2 704.5,382.5 705.3,383.1 706.1,383.7 706.8,383.5 707.6,383.3 708.4,384.3 709.2,384.5 709.9,383.4 710.7,383.2 711.5,383.9 712.3,383.6 713.0,383.4 713.8,383.2 714.6,384.8 715.4,382.5 716.1,383.6 716.9,384.8 717.7,384.3 718.5,384.1 719.2,384.5 720.0,384.9 720.8,384.5 721.6,383.7 722.3,384.8 723.1,386.0 723.9,384.7 724.7,386.0 725.5,386.0 726.2,384.5 727.0,385.3 727.8,384.6 728.6,383.6 729.3,384.5 730.1,384.6 730.9,385.4 731.7,384.5 732.4,384.3 733.2,383.9 734.0,383.8 734.8,384.5 735.5,385.1 736.3,384.8 737.1,384.6 737.9,385.2 738.6,385.1 739.4,385.1 740.2,385.2 741.0,385.3 741.7,384.4 742.5,385.0 743.3,385.1 744.1,385.8 744.8,385.6 745.6,385.2 746.4,384.1 747.2,385.9 747.9,385.7 748.7,385.0 749.5,385.9 750.3,385.5 751.1,385.2 751.8,386.2 752.6,387.3 753.4,385.9 754.2,384.7 754.9,385.6 755.7,384.4 756.5,386.4 757.3,385.8 758.0,385.5 758.8,385.5 759.6,387.1 760.4,386.1 761.1,386.5 761.9,386.6 762.7,386.6 763.5,385.7 764.2,386.7 765.0,387.4 765.8,385.4 766.6,386.3 767.3,386.0 768.1,387.1 768.9,386.8 769.7,387.8 770.4,385.6 771.2,388.6 772.0,387.1 772.8,387.0 773.5,386.8 774.3,388.0 775.1,387.7 775.9,387.8 776.7,388.4 777.4,388.9 778.2,388.9 779.0,390.5 779.8,390.8 780.5,392.5 781.3,391.8 782.1,391.8 782.9,392.8 783.6,393.0 784.4,392.8 785.2,392.7 786.0,392.5 786.7,394.7 787.5,393.1 788.3,392.8 789.1,394.0 789.8,393.4 790.6,394.0 791.4,394.1 792.2,395.2 792.9,393.6 793.7,393.0 794.5,395.0 795.3,395.1 796.0,392.7 796.8,394.8 797.6,394.7 798.4,395.2 799.1,394.3 799.9,395.9 800.7,395.9 801.5,396.6 802.3,395.6 803.0,396.7 803.8,397.7 804.6,400.4 805.4,399.0 806.1,398.7 806.9,398.7 807.7,401.6 808.5,399.9 809.2,399.6 810.0,399.7 810.8,399.3 811.6,400.0 812.3,398.9 813.1,398.5 813.9,399.8 814.7,399.5 815.4,399.3 816.2,399.6 817.0,400.9 817.8,399.2 818.5,400.4 819.3,399.0 820.1,400.6 820.9,399.9 821.6,401.4 822.4,400.0 823.2,398.6 824.0,402.4 824.7,401.2 825.5,402.4 826.3,401.8 827.1,400.8 827.9,401.1 828.6,402.2 829.4,401.1 830.2,401.7 831.0,401.2 831.7,400.9 832.5,401.2 833.3,402.7 834.1,402.8 834.8,402.4 835.6,401.8 836.4,403.9 837.2,403.5 837.9,402.7 838.7,403.4 839.5,403.3 840.3,402.4 841.0,401.5 841.8,402.3 842.6,403.3 843.4,402.4 844.1,401.2 844.9,403.3 845.7,403.7 846.5,402.6 847.2,403.8 848.0,401.5 848.8,401.6 849.6,399.1 850.4,404.8 851.1,401.8 851.9,401.8 852.7,402.2 853.5,403.5 854.2,401.2 855.0,403.3 855.8,403.5 856.6,403.2 857.3,402.1 858.1,402.2 858.9,403.1 859.7,404.5 860.4,405.1 861.2,402.5 862.0,402.3 862.8,401.4 863.5,400.3 864.3,400.7 865.1,402.0 865.9,402.6 866.6,400.2 867.4,402.8 868.2,402.5 869.0,404.2 869.7,404.8 870.5,404.0 871.3,403.3 872.1,402.5 872.8,404.1 873.6,403.9 874.4,402.7 875.2,404.7 876.0,405.8 876.7,403.6 877.5,404.1 878.3,404.9 879.1,406.8 879.8,404.9 880.6,405.9 881.4,403.4 882.2,405.8 882.9,405.4 883.7,405.8 884.5,405.8 885.3,402.8 886.0,405.5 886.8,403.5 887.6,405.0 888.4,404.3 889.1,403.6 889.9,403.2 890.7,402.8 891.5,399.0 892.2,400.5 893.0,401.0 893.8,406.0 894.6,405.9 895.3,405.2 896.1,408.0 896.9,401.7 897.7,399.5 898.4,395.9 899.2,392.5 900.0,387.5" fill="none" stroke="#800000" stroke-width="1.25" stroke-linejoin="round" marker-start="url(#mn)" marker-mid="url(#mn)" marker-end="url(#mn)"/>
<line x1="435.00" y1="259.90" x2="435.00" y2="445.00" stroke="#ff0000" stroke-width="4.17"/>
<line x1="342.00" y1="443.00" x2="432.00" y2="443.00" stroke="#ff0000" stroke-width="4.17"/>
<line x1="757.00" y1="443.00" x2="848.00" y2="443.00" stroke="#ff0000" stroke-width="4.17"/>
</g>
<text x="443.10" y="280.70" fill="#ff0000" style="fill:#ff0000;letter-spacing:-0.1px">Interruption</text>
<path d="M125.5 260.5 H900.5 V445.5 H125.5 Z" fill="none" stroke="#000" stroke-width="1.11" stroke-linejoin="miter"/>
<path d="M125.5 424.5H120.6M125.5 395.5H120.6M125.5 365.5H120.6M125.5 335.5H120.6M125.5 306.5H120.6M125.5 276.5H120.6" stroke="#000" stroke-width="1.11" fill="none"/>
<path d="M125.5 445.5H122.7M125.5 440.5H122.7M125.5 436.5H122.7M125.5 433.5H122.7M125.5 431.5H122.7M125.5 429.5H122.7M125.5 427.5H122.7M125.5 426.5H122.7M125.5 415.5H122.7M125.5 410.5H122.7M125.5 406.5H122.7M125.5 404.5H122.7M125.5 401.5H122.7M125.5 399.5H122.7M125.5 398.5H122.7M125.5 396.5H122.7M125.5 386.5H122.7M125.5 380.5H122.7M125.5 377.5H122.7M125.5 374.5H122.7M125.5 372.5H122.7M125.5 370.5H122.7M125.5 368.5H122.7M125.5 366.5H122.7M125.5 356.5H122.7M125.5 351.5H122.7M125.5 347.5H122.7M125.5 344.5H122.7M125.5 342.5H122.7M125.5 340.5H122.7M125.5 338.5H122.7M125.5 337.5H122.7M125.5 326.5H122.7M125.5 321.5H122.7M125.5 317.5H122.7M125.5 315.5H122.7M125.5 312.5H122.7M125.5 310.5H122.7M125.5 309.5H122.7M125.5 307.5H122.7M125.5 297.5H122.7M125.5 292.5H122.7M125.5 288.5H122.7M125.5 285.5H122.7M125.5 283.5H122.7M125.5 281.5H122.7M125.5 279.5H122.7M125.5 277.5H122.7M125.5 267.5H122.7M125.5 262.5H122.7" stroke="#000" stroke-width="0.83" fill="none"/>
<path d="M259.5 445.0V449.9M414.5 445.0V449.9M569.5 445.0V449.9M724.5 445.0V449.9M879.5 445.0V449.9" stroke="#000" stroke-width="1.11" fill="none"/>
<text transform="translate(85.90 431.03)"><tspan x="0" y="-1.27">10</tspan><tspan x="16.02" y="-6.06" style="font-size:8.75px">−1</tspan></text>
<text transform="translate(93.28 401.38)"><tspan x="0" y="-1.27">10</tspan><tspan x="16.02" y="-6.06" style="font-size:8.75px">0</tspan></text>
<text transform="translate(93.28 371.73)"><tspan x="0" y="-1.27">10</tspan><tspan x="16.02" y="-6.06" style="font-size:8.75px">1</tspan></text>
<text transform="translate(93.28 342.08)"><tspan x="0" y="-1.27">10</tspan><tspan x="16.02" y="-6.06" style="font-size:8.75px">2</tspan></text>
<text transform="translate(93.28 312.43)"><tspan x="0" y="-1.27">10</tspan><tspan x="16.02" y="-6.06" style="font-size:8.75px">3</tspan></text>
<text transform="translate(93.28 282.78)"><tspan x="0" y="-1.27">10</tspan><tspan x="16.02" y="-6.06" style="font-size:8.75px">4</tspan></text>
<text text-anchor="middle" transform="translate(76.95 354.05) rotate(-90)">Counts/Sec</text>
<text text-anchor="middle" x="259.08" y="465.22">204</text>
<text text-anchor="middle" x="414.08" y="465.22">205</text>
<text text-anchor="middle" x="569.08" y="465.22">206</text>
<text text-anchor="middle" x="724.08" y="465.22">207</text>
<text text-anchor="middle" x="879.08" y="465.22">208</text>
<text text-anchor="middle" x="512.50" y="482.87">Time (Day Of Year)</text>
<rect x="821.5" y="66.5" width="73.0" height="62.0" rx="2.5" ry="2.5" fill="#fff" fill-opacity="0.8" stroke="#ccc" stroke-opacity="0.8" stroke-width="1"/>
<polyline points="826.38,77.50 838.88,77.50 851.38,77.50" fill="none" stroke="#0000ff" stroke-width="1.25" stroke-linecap="square" marker-mid="url(#lmb)"/>
<text x="861.38" y="81.25">LE-0</text>
<polyline points="826.38,96.50 838.88,96.50 851.38,96.50" fill="none" stroke="#ff0000" stroke-width="1.25" stroke-linecap="square" marker-mid="url(#lmr)"/>
<text x="861.38" y="100.50">LE-1</text>
<polyline points="826.38,115.50 838.88,115.50 851.38,115.50" fill="none" stroke="#008000" stroke-width="1.25" stroke-linecap="square" marker-mid="url(#lmg)"/>
<text x="861.38" y="119.75">LE-2</text>
<rect x="810.5" y="266.5" width="84.0" height="81.0" rx="2.5" ry="2.5" fill="#fff" fill-opacity="0.8" stroke="#ccc" stroke-opacity="0.8" stroke-width="1"/>
<polyline points="815.25,277.50 827.75,277.50 840.25,277.50" fill="none" stroke="#00ffff" stroke-width="1.25" stroke-linecap="square" marker-mid="url(#lmc)"/>
<text x="850.25" y="281.15">HES-0</text>
<polyline points="815.25,296.50 827.75,296.50 840.25,296.50" fill="none" stroke="#ff00ff" stroke-width="1.25" stroke-linecap="square" marker-mid="url(#lmm)"/>
<text x="850.25" y="300.40">HES-1</text>
<polyline points="815.25,315.50 827.75,315.50 840.25,315.50" fill="none" stroke="#00ff00" stroke-width="1.25" stroke-linecap="square" marker-mid="url(#lml)"/>
<text x="850.25" y="319.65">HES-2</text>
<polyline points="815.25,335.50 827.75,335.50 840.25,335.50" fill="none" stroke="#800000" stroke-width="1.25" stroke-linecap="square" marker-mid="url(#lmn)"/>
<text x="850.25" y="338.90">HES-C</text>
</svg></body></html>
